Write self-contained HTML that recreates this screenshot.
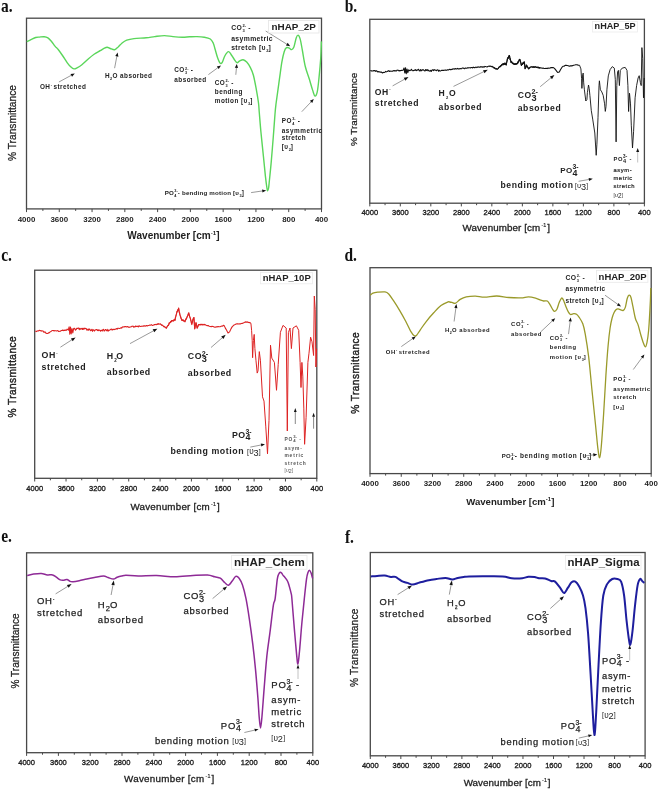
<!DOCTYPE html>
<html><head><meta charset="utf-8"><style>
html,body{margin:0;padding:0;background:#fff;overflow:hidden;width:658px;height:789px;}
svg{display:block;will-change:transform;}
.tl{font-family:"Liberation Sans", sans-serif;font-size:7.9px;font-weight:bold;fill:#222;text-anchor:middle;}
.xl{font-family:"Liberation Sans", sans-serif;font-size:9.6px;font-weight:bold;fill:#222;text-anchor:middle;}
.yl{font-family:"Liberation Sans", sans-serif;font-size:10px;fill:#222;text-anchor:middle;}
.pl{font-family:"Liberation Serif", serif;font-size:18px;font-weight:bold;fill:#111;}
text{font-family:"Liberation Sans", sans-serif;}
.pl{font-family:"Liberation Serif", serif !important;}
</style></head><body>
<svg width="658" height="789" viewBox="0 0 658 789">
<rect x="26.5" y="18.2" width="295.0" height="190.70000000000002" fill="none" stroke="#484848" stroke-width="1.3"/>
<line x1="26.50" y1="208.9" x2="26.50" y2="212.1" stroke="#484848" stroke-width="1"/>
<line x1="42.89" y1="208.9" x2="42.89" y2="210.9" stroke="#484848" stroke-width="1"/>
<line x1="59.28" y1="208.9" x2="59.28" y2="212.1" stroke="#484848" stroke-width="1"/>
<line x1="75.67" y1="208.9" x2="75.67" y2="210.9" stroke="#484848" stroke-width="1"/>
<line x1="92.06" y1="208.9" x2="92.06" y2="212.1" stroke="#484848" stroke-width="1"/>
<line x1="108.44" y1="208.9" x2="108.44" y2="210.9" stroke="#484848" stroke-width="1"/>
<line x1="124.83" y1="208.9" x2="124.83" y2="212.1" stroke="#484848" stroke-width="1"/>
<line x1="141.22" y1="208.9" x2="141.22" y2="210.9" stroke="#484848" stroke-width="1"/>
<line x1="157.61" y1="208.9" x2="157.61" y2="212.1" stroke="#484848" stroke-width="1"/>
<line x1="174.00" y1="208.9" x2="174.00" y2="210.9" stroke="#484848" stroke-width="1"/>
<line x1="190.39" y1="208.9" x2="190.39" y2="212.1" stroke="#484848" stroke-width="1"/>
<line x1="206.78" y1="208.9" x2="206.78" y2="210.9" stroke="#484848" stroke-width="1"/>
<line x1="223.17" y1="208.9" x2="223.17" y2="212.1" stroke="#484848" stroke-width="1"/>
<line x1="239.56" y1="208.9" x2="239.56" y2="210.9" stroke="#484848" stroke-width="1"/>
<line x1="255.94" y1="208.9" x2="255.94" y2="212.1" stroke="#484848" stroke-width="1"/>
<line x1="272.33" y1="208.9" x2="272.33" y2="210.9" stroke="#484848" stroke-width="1"/>
<line x1="288.72" y1="208.9" x2="288.72" y2="212.1" stroke="#484848" stroke-width="1"/>
<line x1="305.11" y1="208.9" x2="305.11" y2="210.9" stroke="#484848" stroke-width="1"/>
<line x1="321.50" y1="208.9" x2="321.50" y2="212.1" stroke="#484848" stroke-width="1"/>
<text x="26.50" y="221.80" class="tl">4000</text>
<text x="59.28" y="221.80" class="tl">3600</text>
<text x="92.06" y="221.80" class="tl">3200</text>
<text x="124.83" y="221.80" class="tl">2800</text>
<text x="157.61" y="221.80" class="tl">2400</text>
<text x="190.39" y="221.80" class="tl">2000</text>
<text x="223.17" y="221.80" class="tl">1600</text>
<text x="255.94" y="221.80" class="tl">1200</text>
<text x="288.72" y="221.80" class="tl">800</text>
<text x="321.50" y="221.80" class="tl">400</text>
<text x="173.5" y="238.5" class="xl" style="font-size:10.05px;font-weight:bold">Wavenumber [cm<tspan dy="-3.82" font-size="6.23">-1</tspan><tspan dy="3.82">]</tspan></text>
<text transform="translate(16.2,123) rotate(-90)" class="yl" style="font-size:10.2px;font-weight:normal;letter-spacing:0px;stroke:#222;stroke-width:0.25px;">% Transmittance</text>
<text transform="translate(0.9,11.6) scale(0.86,1)" class="pl">a.</text>
<rect x="369.8" y="19.3" width="274.59999999999997" height="183.89999999999998" fill="none" stroke="#484848" stroke-width="1.3"/>
<line x1="369.80" y1="203.2" x2="369.80" y2="206.39999999999998" stroke="#484848" stroke-width="1"/>
<line x1="385.06" y1="203.2" x2="385.06" y2="205.2" stroke="#484848" stroke-width="1"/>
<line x1="400.31" y1="203.2" x2="400.31" y2="206.39999999999998" stroke="#484848" stroke-width="1"/>
<line x1="415.57" y1="203.2" x2="415.57" y2="205.2" stroke="#484848" stroke-width="1"/>
<line x1="430.82" y1="203.2" x2="430.82" y2="206.39999999999998" stroke="#484848" stroke-width="1"/>
<line x1="446.08" y1="203.2" x2="446.08" y2="205.2" stroke="#484848" stroke-width="1"/>
<line x1="461.33" y1="203.2" x2="461.33" y2="206.39999999999998" stroke="#484848" stroke-width="1"/>
<line x1="476.59" y1="203.2" x2="476.59" y2="205.2" stroke="#484848" stroke-width="1"/>
<line x1="491.84" y1="203.2" x2="491.84" y2="206.39999999999998" stroke="#484848" stroke-width="1"/>
<line x1="507.10" y1="203.2" x2="507.10" y2="205.2" stroke="#484848" stroke-width="1"/>
<line x1="522.36" y1="203.2" x2="522.36" y2="206.39999999999998" stroke="#484848" stroke-width="1"/>
<line x1="537.61" y1="203.2" x2="537.61" y2="205.2" stroke="#484848" stroke-width="1"/>
<line x1="552.87" y1="203.2" x2="552.87" y2="206.39999999999998" stroke="#484848" stroke-width="1"/>
<line x1="568.12" y1="203.2" x2="568.12" y2="205.2" stroke="#484848" stroke-width="1"/>
<line x1="583.38" y1="203.2" x2="583.38" y2="206.39999999999998" stroke="#484848" stroke-width="1"/>
<line x1="598.63" y1="203.2" x2="598.63" y2="205.2" stroke="#484848" stroke-width="1"/>
<line x1="613.89" y1="203.2" x2="613.89" y2="206.39999999999998" stroke="#484848" stroke-width="1"/>
<line x1="629.14" y1="203.2" x2="629.14" y2="205.2" stroke="#484848" stroke-width="1"/>
<line x1="644.40" y1="203.2" x2="644.40" y2="206.39999999999998" stroke="#484848" stroke-width="1"/>
<text transform="translate(369.80,215.00) scale(0.93,1)" class="tl" style="font-weight:normal;font-size:8.1px;stroke:#222;stroke-width:0.35px">4000</text>
<text transform="translate(400.31,215.00) scale(0.93,1)" class="tl" style="font-weight:normal;font-size:8.1px;stroke:#222;stroke-width:0.35px">3600</text>
<text transform="translate(430.82,215.00) scale(0.93,1)" class="tl" style="font-weight:normal;font-size:8.1px;stroke:#222;stroke-width:0.35px">3200</text>
<text transform="translate(461.33,215.00) scale(0.93,1)" class="tl" style="font-weight:normal;font-size:8.1px;stroke:#222;stroke-width:0.35px">2800</text>
<text transform="translate(491.84,215.00) scale(0.93,1)" class="tl" style="font-weight:normal;font-size:8.1px;stroke:#222;stroke-width:0.35px">2400</text>
<text transform="translate(522.36,215.00) scale(0.93,1)" class="tl" style="font-weight:normal;font-size:8.1px;stroke:#222;stroke-width:0.35px">2000</text>
<text transform="translate(552.87,215.00) scale(0.93,1)" class="tl" style="font-weight:normal;font-size:8.1px;stroke:#222;stroke-width:0.35px">1600</text>
<text transform="translate(583.38,215.00) scale(0.93,1)" class="tl" style="font-weight:normal;font-size:8.1px;stroke:#222;stroke-width:0.35px">1200</text>
<text transform="translate(613.89,215.00) scale(0.93,1)" class="tl" style="font-weight:normal;font-size:8.1px;stroke:#222;stroke-width:0.35px">800</text>
<text transform="translate(644.40,215.00) scale(0.93,1)" class="tl" style="font-weight:normal;font-size:8.1px;stroke:#222;stroke-width:0.35px">400</text>
<text x="506.3" y="231" class="xl" style="font-size:9.8px;font-weight:normal;letter-spacing:0.1px;stroke:#222;stroke-width:0.3px;">Wavenumber [cm<tspan dx="1" dy="-4.41" font-size="5.39" style="stroke-width:0.15px">-1</tspan><tspan dx="0.8" dy="4.41">]</tspan></text>
<text transform="translate(356.8,109.4) rotate(-90)" class="yl" style="font-size:9.85px;font-weight:normal;letter-spacing:0px;stroke:#222;stroke-width:0.25px;">% Transmittance</text>
<text transform="translate(344.7,11.7) scale(0.86,1)" class="pl">b.</text>
<rect x="34.7" y="270.2" width="282.1" height="208.10000000000002" fill="none" stroke="#484848" stroke-width="1.3"/>
<line x1="34.70" y1="478.3" x2="34.70" y2="481.5" stroke="#484848" stroke-width="1"/>
<line x1="50.37" y1="478.3" x2="50.37" y2="480.3" stroke="#484848" stroke-width="1"/>
<line x1="66.04" y1="478.3" x2="66.04" y2="481.5" stroke="#484848" stroke-width="1"/>
<line x1="81.72" y1="478.3" x2="81.72" y2="480.3" stroke="#484848" stroke-width="1"/>
<line x1="97.39" y1="478.3" x2="97.39" y2="481.5" stroke="#484848" stroke-width="1"/>
<line x1="113.06" y1="478.3" x2="113.06" y2="480.3" stroke="#484848" stroke-width="1"/>
<line x1="128.73" y1="478.3" x2="128.73" y2="481.5" stroke="#484848" stroke-width="1"/>
<line x1="144.41" y1="478.3" x2="144.41" y2="480.3" stroke="#484848" stroke-width="1"/>
<line x1="160.08" y1="478.3" x2="160.08" y2="481.5" stroke="#484848" stroke-width="1"/>
<line x1="175.75" y1="478.3" x2="175.75" y2="480.3" stroke="#484848" stroke-width="1"/>
<line x1="191.42" y1="478.3" x2="191.42" y2="481.5" stroke="#484848" stroke-width="1"/>
<line x1="207.09" y1="478.3" x2="207.09" y2="480.3" stroke="#484848" stroke-width="1"/>
<line x1="222.77" y1="478.3" x2="222.77" y2="481.5" stroke="#484848" stroke-width="1"/>
<line x1="238.44" y1="478.3" x2="238.44" y2="480.3" stroke="#484848" stroke-width="1"/>
<line x1="254.11" y1="478.3" x2="254.11" y2="481.5" stroke="#484848" stroke-width="1"/>
<line x1="269.78" y1="478.3" x2="269.78" y2="480.3" stroke="#484848" stroke-width="1"/>
<line x1="285.46" y1="478.3" x2="285.46" y2="481.5" stroke="#484848" stroke-width="1"/>
<line x1="301.13" y1="478.3" x2="301.13" y2="480.3" stroke="#484848" stroke-width="1"/>
<line x1="316.80" y1="478.3" x2="316.80" y2="481.5" stroke="#484848" stroke-width="1"/>
<text transform="translate(34.70,491.40) scale(0.93,1)" class="tl" style="font-weight:normal;font-size:8.1px;stroke:#222;stroke-width:0.35px">4000</text>
<text transform="translate(66.04,491.40) scale(0.93,1)" class="tl" style="font-weight:normal;font-size:8.1px;stroke:#222;stroke-width:0.35px">3600</text>
<text transform="translate(97.39,491.40) scale(0.93,1)" class="tl" style="font-weight:normal;font-size:8.1px;stroke:#222;stroke-width:0.35px">3200</text>
<text transform="translate(128.73,491.40) scale(0.93,1)" class="tl" style="font-weight:normal;font-size:8.1px;stroke:#222;stroke-width:0.35px">2800</text>
<text transform="translate(160.08,491.40) scale(0.93,1)" class="tl" style="font-weight:normal;font-size:8.1px;stroke:#222;stroke-width:0.35px">2400</text>
<text transform="translate(191.42,491.40) scale(0.93,1)" class="tl" style="font-weight:normal;font-size:8.1px;stroke:#222;stroke-width:0.35px">2000</text>
<text transform="translate(222.77,491.40) scale(0.93,1)" class="tl" style="font-weight:normal;font-size:8.1px;stroke:#222;stroke-width:0.35px">1600</text>
<text transform="translate(254.11,491.40) scale(0.93,1)" class="tl" style="font-weight:normal;font-size:8.1px;stroke:#222;stroke-width:0.35px">1200</text>
<text transform="translate(285.46,491.40) scale(0.93,1)" class="tl" style="font-weight:normal;font-size:8.1px;stroke:#222;stroke-width:0.35px">800</text>
<text transform="translate(316.80,491.40) scale(0.93,1)" class="tl" style="font-weight:normal;font-size:8.1px;stroke:#222;stroke-width:0.35px">400</text>
<text x="175.2" y="510.1" class="xl" style="font-size:9.8px;font-weight:normal;letter-spacing:0.23px;stroke:#222;stroke-width:0.3px;">Wavenumber [cm<tspan dx="1" dy="-4.41" font-size="5.39" style="stroke-width:0.15px">-1</tspan><tspan dx="0.8" dy="4.41">]</tspan></text>
<text transform="translate(15.8,376.8) rotate(-90)" class="yl" style="font-size:10.2px;font-weight:normal;letter-spacing:0.37px;stroke:#222;stroke-width:0.4px;">% Transmittance</text>
<text transform="translate(1.2,261.4) scale(0.86,1)" class="pl">c.</text>
<rect x="370" y="267.7" width="281.20000000000005" height="205.90000000000003" fill="none" stroke="#484848" stroke-width="1.3"/>
<line x1="370.00" y1="473.6" x2="370.00" y2="476.8" stroke="#484848" stroke-width="1"/>
<line x1="385.62" y1="473.6" x2="385.62" y2="475.6" stroke="#484848" stroke-width="1"/>
<line x1="401.24" y1="473.6" x2="401.24" y2="476.8" stroke="#484848" stroke-width="1"/>
<line x1="416.87" y1="473.6" x2="416.87" y2="475.6" stroke="#484848" stroke-width="1"/>
<line x1="432.49" y1="473.6" x2="432.49" y2="476.8" stroke="#484848" stroke-width="1"/>
<line x1="448.11" y1="473.6" x2="448.11" y2="475.6" stroke="#484848" stroke-width="1"/>
<line x1="463.73" y1="473.6" x2="463.73" y2="476.8" stroke="#484848" stroke-width="1"/>
<line x1="479.36" y1="473.6" x2="479.36" y2="475.6" stroke="#484848" stroke-width="1"/>
<line x1="494.98" y1="473.6" x2="494.98" y2="476.8" stroke="#484848" stroke-width="1"/>
<line x1="510.60" y1="473.6" x2="510.60" y2="475.6" stroke="#484848" stroke-width="1"/>
<line x1="526.22" y1="473.6" x2="526.22" y2="476.8" stroke="#484848" stroke-width="1"/>
<line x1="541.84" y1="473.6" x2="541.84" y2="475.6" stroke="#484848" stroke-width="1"/>
<line x1="557.47" y1="473.6" x2="557.47" y2="476.8" stroke="#484848" stroke-width="1"/>
<line x1="573.09" y1="473.6" x2="573.09" y2="475.6" stroke="#484848" stroke-width="1"/>
<line x1="588.71" y1="473.6" x2="588.71" y2="476.8" stroke="#484848" stroke-width="1"/>
<line x1="604.33" y1="473.6" x2="604.33" y2="475.6" stroke="#484848" stroke-width="1"/>
<line x1="619.96" y1="473.6" x2="619.96" y2="476.8" stroke="#484848" stroke-width="1"/>
<line x1="635.58" y1="473.6" x2="635.58" y2="475.6" stroke="#484848" stroke-width="1"/>
<line x1="651.20" y1="473.6" x2="651.20" y2="476.8" stroke="#484848" stroke-width="1"/>
<text x="370.00" y="486.40" class="tl">4000</text>
<text x="401.24" y="486.40" class="tl">3600</text>
<text x="432.49" y="486.40" class="tl">3200</text>
<text x="463.73" y="486.40" class="tl">2800</text>
<text x="494.98" y="486.40" class="tl">2400</text>
<text x="526.22" y="486.40" class="tl">2000</text>
<text x="557.47" y="486.40" class="tl">1600</text>
<text x="588.71" y="486.40" class="tl">1200</text>
<text x="619.96" y="486.40" class="tl">800</text>
<text x="651.20" y="486.40" class="tl">400</text>
<text x="510.3" y="504.5" class="xl" style="font-size:9.6px;font-weight:bold">Wavenumber [cm<tspan dy="-3.65" font-size="5.95">-1</tspan><tspan dy="3.65">]</tspan></text>
<text transform="translate(359,372.8) rotate(-90)" class="yl" style="font-size:10.2px;font-weight:normal;letter-spacing:0.4px;stroke:#222;stroke-width:0.4px;">% Transmittance</text>
<text transform="translate(344.4,261.4) scale(0.86,1)" class="pl">d.</text>
<rect x="26.6" y="552.8" width="286.2" height="199.9000000000001" fill="none" stroke="#484848" stroke-width="1.3"/>
<line x1="26.60" y1="752.7" x2="26.60" y2="755.9000000000001" stroke="#484848" stroke-width="1"/>
<line x1="42.50" y1="752.7" x2="42.50" y2="754.7" stroke="#484848" stroke-width="1"/>
<line x1="58.40" y1="752.7" x2="58.40" y2="755.9000000000001" stroke="#484848" stroke-width="1"/>
<line x1="74.30" y1="752.7" x2="74.30" y2="754.7" stroke="#484848" stroke-width="1"/>
<line x1="90.20" y1="752.7" x2="90.20" y2="755.9000000000001" stroke="#484848" stroke-width="1"/>
<line x1="106.10" y1="752.7" x2="106.10" y2="754.7" stroke="#484848" stroke-width="1"/>
<line x1="122.00" y1="752.7" x2="122.00" y2="755.9000000000001" stroke="#484848" stroke-width="1"/>
<line x1="137.90" y1="752.7" x2="137.90" y2="754.7" stroke="#484848" stroke-width="1"/>
<line x1="153.80" y1="752.7" x2="153.80" y2="755.9000000000001" stroke="#484848" stroke-width="1"/>
<line x1="169.70" y1="752.7" x2="169.70" y2="754.7" stroke="#484848" stroke-width="1"/>
<line x1="185.60" y1="752.7" x2="185.60" y2="755.9000000000001" stroke="#484848" stroke-width="1"/>
<line x1="201.50" y1="752.7" x2="201.50" y2="754.7" stroke="#484848" stroke-width="1"/>
<line x1="217.40" y1="752.7" x2="217.40" y2="755.9000000000001" stroke="#484848" stroke-width="1"/>
<line x1="233.30" y1="752.7" x2="233.30" y2="754.7" stroke="#484848" stroke-width="1"/>
<line x1="249.20" y1="752.7" x2="249.20" y2="755.9000000000001" stroke="#484848" stroke-width="1"/>
<line x1="265.10" y1="752.7" x2="265.10" y2="754.7" stroke="#484848" stroke-width="1"/>
<line x1="281.00" y1="752.7" x2="281.00" y2="755.9000000000001" stroke="#484848" stroke-width="1"/>
<line x1="296.90" y1="752.7" x2="296.90" y2="754.7" stroke="#484848" stroke-width="1"/>
<line x1="312.80" y1="752.7" x2="312.80" y2="755.9000000000001" stroke="#484848" stroke-width="1"/>
<text transform="translate(26.60,764.90) scale(0.93,1)" class="tl" style="font-weight:normal;font-size:8.1px;stroke:#222;stroke-width:0.35px">4000</text>
<text transform="translate(58.40,764.90) scale(0.93,1)" class="tl" style="font-weight:normal;font-size:8.1px;stroke:#222;stroke-width:0.35px">3600</text>
<text transform="translate(90.20,764.90) scale(0.93,1)" class="tl" style="font-weight:normal;font-size:8.1px;stroke:#222;stroke-width:0.35px">3200</text>
<text transform="translate(122.00,764.90) scale(0.93,1)" class="tl" style="font-weight:normal;font-size:8.1px;stroke:#222;stroke-width:0.35px">2800</text>
<text transform="translate(153.80,764.90) scale(0.93,1)" class="tl" style="font-weight:normal;font-size:8.1px;stroke:#222;stroke-width:0.35px">2400</text>
<text transform="translate(185.60,764.90) scale(0.93,1)" class="tl" style="font-weight:normal;font-size:8.1px;stroke:#222;stroke-width:0.35px">2000</text>
<text transform="translate(217.40,764.90) scale(0.93,1)" class="tl" style="font-weight:normal;font-size:8.1px;stroke:#222;stroke-width:0.35px">1600</text>
<text transform="translate(249.20,764.90) scale(0.93,1)" class="tl" style="font-weight:normal;font-size:8.1px;stroke:#222;stroke-width:0.35px">1200</text>
<text transform="translate(281.00,764.90) scale(0.93,1)" class="tl" style="font-weight:normal;font-size:8.1px;stroke:#222;stroke-width:0.35px">800</text>
<text transform="translate(312.80,764.90) scale(0.93,1)" class="tl" style="font-weight:normal;font-size:8.1px;stroke:#222;stroke-width:0.35px">400</text>
<text x="169.3" y="782.4" class="xl" style="font-size:9.8px;font-weight:normal;letter-spacing:0.28px;stroke:#222;stroke-width:0.3px;">Wavenumber [cm<tspan dx="1" dy="-4.41" font-size="5.39" style="stroke-width:0.15px">-1</tspan><tspan dx="0.8" dy="4.41">]</tspan></text>
<text transform="translate(19,651) rotate(-90)" class="yl" style="font-size:10.1px;font-weight:normal;letter-spacing:0px;stroke:#222;stroke-width:0.25px;">% Transmittance</text>
<text transform="translate(1.2,542.2) scale(0.86,1)" class="pl">e.</text>
<rect x="370.3" y="552.5" width="274.8" height="203.29999999999995" fill="none" stroke="#484848" stroke-width="1.3"/>
<line x1="370.30" y1="755.8" x2="370.30" y2="759.0" stroke="#484848" stroke-width="1"/>
<line x1="385.57" y1="755.8" x2="385.57" y2="757.8" stroke="#484848" stroke-width="1"/>
<line x1="400.83" y1="755.8" x2="400.83" y2="759.0" stroke="#484848" stroke-width="1"/>
<line x1="416.10" y1="755.8" x2="416.10" y2="757.8" stroke="#484848" stroke-width="1"/>
<line x1="431.37" y1="755.8" x2="431.37" y2="759.0" stroke="#484848" stroke-width="1"/>
<line x1="446.63" y1="755.8" x2="446.63" y2="757.8" stroke="#484848" stroke-width="1"/>
<line x1="461.90" y1="755.8" x2="461.90" y2="759.0" stroke="#484848" stroke-width="1"/>
<line x1="477.17" y1="755.8" x2="477.17" y2="757.8" stroke="#484848" stroke-width="1"/>
<line x1="492.43" y1="755.8" x2="492.43" y2="759.0" stroke="#484848" stroke-width="1"/>
<line x1="507.70" y1="755.8" x2="507.70" y2="757.8" stroke="#484848" stroke-width="1"/>
<line x1="522.97" y1="755.8" x2="522.97" y2="759.0" stroke="#484848" stroke-width="1"/>
<line x1="538.23" y1="755.8" x2="538.23" y2="757.8" stroke="#484848" stroke-width="1"/>
<line x1="553.50" y1="755.8" x2="553.50" y2="759.0" stroke="#484848" stroke-width="1"/>
<line x1="568.77" y1="755.8" x2="568.77" y2="757.8" stroke="#484848" stroke-width="1"/>
<line x1="584.03" y1="755.8" x2="584.03" y2="759.0" stroke="#484848" stroke-width="1"/>
<line x1="599.30" y1="755.8" x2="599.30" y2="757.8" stroke="#484848" stroke-width="1"/>
<line x1="614.57" y1="755.8" x2="614.57" y2="759.0" stroke="#484848" stroke-width="1"/>
<line x1="629.83" y1="755.8" x2="629.83" y2="757.8" stroke="#484848" stroke-width="1"/>
<line x1="645.10" y1="755.8" x2="645.10" y2="759.0" stroke="#484848" stroke-width="1"/>
<text transform="translate(370.30,768.20) scale(0.93,1)" class="tl" style="font-weight:normal;font-size:8.1px;stroke:#222;stroke-width:0.35px">4000</text>
<text transform="translate(400.83,768.20) scale(0.93,1)" class="tl" style="font-weight:normal;font-size:8.1px;stroke:#222;stroke-width:0.35px">3600</text>
<text transform="translate(431.37,768.20) scale(0.93,1)" class="tl" style="font-weight:normal;font-size:8.1px;stroke:#222;stroke-width:0.35px">3200</text>
<text transform="translate(461.90,768.20) scale(0.93,1)" class="tl" style="font-weight:normal;font-size:8.1px;stroke:#222;stroke-width:0.35px">2800</text>
<text transform="translate(492.43,768.20) scale(0.93,1)" class="tl" style="font-weight:normal;font-size:8.1px;stroke:#222;stroke-width:0.35px">2400</text>
<text transform="translate(522.97,768.20) scale(0.93,1)" class="tl" style="font-weight:normal;font-size:8.1px;stroke:#222;stroke-width:0.35px">2000</text>
<text transform="translate(553.50,768.20) scale(0.93,1)" class="tl" style="font-weight:normal;font-size:8.1px;stroke:#222;stroke-width:0.35px">1600</text>
<text transform="translate(584.03,768.20) scale(0.93,1)" class="tl" style="font-weight:normal;font-size:8.1px;stroke:#222;stroke-width:0.35px">1200</text>
<text transform="translate(614.57,768.20) scale(0.93,1)" class="tl" style="font-weight:normal;font-size:8.1px;stroke:#222;stroke-width:0.35px">800</text>
<text transform="translate(645.10,768.20) scale(0.93,1)" class="tl" style="font-weight:normal;font-size:8.1px;stroke:#222;stroke-width:0.35px">400</text>
<text x="507.1" y="786" class="xl" style="font-size:9.8px;font-weight:normal;letter-spacing:0.07px;stroke:#222;stroke-width:0.3px;">Wavenumber [cm<tspan dx="1" dy="-4.41" font-size="5.39" style="stroke-width:0.15px">-1</tspan><tspan dx="0.8" dy="4.41">]</tspan></text>
<text transform="translate(358,647.7) rotate(-90)" class="yl" style="font-size:10.2px;font-weight:normal;letter-spacing:0.18px;stroke:#222;stroke-width:0.25px;">% Transmittance</text>
<text transform="translate(344.9,543) scale(0.86,1)" class="pl">f.</text>
<path d="M26.80,41.60 C27.48,41.28 29.42,40.38 30.90,39.70 C32.38,39.02 34.28,37.93 35.70,37.50 C37.12,37.07 37.98,37.23 39.40,37.10 C40.82,36.97 42.78,36.57 44.20,36.70 C45.62,36.83 46.68,37.10 47.90,37.90 C49.12,38.70 50.28,40.08 51.50,41.50 C52.72,42.92 54.08,45.07 55.20,46.40 C56.32,47.73 56.98,47.98 58.20,49.50 C59.42,51.02 60.98,53.28 62.50,55.50 C64.02,57.72 65.88,60.87 67.30,62.80 C68.72,64.73 69.88,66.08 71.00,67.10 C72.12,68.12 73.00,68.77 74.00,68.90 C75.00,69.03 75.68,68.60 77.00,67.90 C78.32,67.20 80.07,66.15 81.90,64.70 C83.73,63.25 85.97,60.93 88.00,59.20 C90.03,57.47 92.07,55.72 94.10,54.30 C96.13,52.88 98.62,51.63 100.20,50.70 C101.78,49.77 102.45,49.28 103.60,48.70 C104.75,48.12 105.98,47.23 107.10,47.20 C108.22,47.17 109.05,48.08 110.30,48.50 C111.55,48.92 113.28,49.97 114.60,49.70 C115.92,49.43 116.98,47.98 118.20,46.90 C119.42,45.82 120.48,44.32 121.90,43.20 C123.32,42.08 124.68,40.97 126.70,40.20 C128.72,39.43 130.75,39.00 134.00,38.60 C137.25,38.20 142.75,38.13 146.20,37.80 C149.65,37.47 151.67,36.97 154.70,36.60 C157.73,36.23 161.35,35.60 164.40,35.60 C167.45,35.60 170.02,36.33 173.00,36.60 C175.98,36.87 179.53,37.17 182.30,37.20 C185.07,37.23 187.17,36.90 189.60,36.80 C192.03,36.70 194.47,36.53 196.90,36.60 C199.33,36.67 201.97,36.80 204.20,37.20 C206.43,37.60 208.78,38.00 210.30,39.00 C211.82,40.00 212.50,41.48 213.30,43.20 C214.10,44.92 214.38,46.87 215.10,49.30 C215.82,51.73 216.75,55.47 217.60,57.80 C218.45,60.13 219.40,62.58 220.20,63.30 C221.00,64.02 221.63,63.32 222.40,62.10 C223.17,60.88 223.82,57.73 224.80,56.00 C225.78,54.27 227.28,52.00 228.30,51.70 C229.32,51.40 229.95,52.98 230.90,54.20 C231.85,55.42 232.98,57.58 234.00,59.00 C235.02,60.42 236.10,62.33 237.00,62.70 C237.90,63.07 238.38,61.70 239.40,61.20 C240.42,60.70 241.88,59.55 243.10,59.70 C244.32,59.85 245.48,60.78 246.70,62.10 C247.92,63.42 249.28,65.42 250.40,67.60 C251.52,69.78 252.42,71.58 253.40,75.20 C254.38,78.82 255.45,84.67 256.30,89.30 C257.15,93.93 258.00,99.10 258.50,103.00 C259.00,106.90 258.90,107.92 259.30,112.70 C259.70,117.48 260.20,124.30 260.90,131.70 C261.60,139.10 262.75,149.70 263.50,157.10 C264.25,164.50 264.82,170.87 265.40,176.10 C265.98,181.33 266.62,186.07 267.00,188.50 C267.38,190.93 267.43,190.78 267.70,190.70 C267.97,190.62 268.32,189.70 268.60,188.00 C268.88,186.30 268.98,184.60 269.40,180.50 C269.82,176.40 270.47,170.48 271.10,163.40 C271.73,156.32 272.55,146.23 273.20,138.00 C273.85,129.77 274.53,119.67 275.00,114.00 C275.47,108.33 275.60,107.37 276.00,104.00 C276.40,100.63 276.80,98.15 277.40,93.80 C278.00,89.45 278.85,83.22 279.60,77.90 C280.35,72.58 281.13,66.27 281.90,61.90 C282.67,57.53 283.43,54.07 284.20,51.70 C284.97,49.33 285.65,48.28 286.50,47.70 C287.35,47.12 288.45,47.88 289.30,48.20 C290.15,48.52 290.83,49.78 291.60,49.60 C292.37,49.42 293.13,49.03 293.90,47.10 C294.67,45.17 295.50,40.00 296.20,38.00 C296.90,36.00 297.43,34.92 298.10,35.10 C298.77,35.28 299.48,36.53 300.20,39.10 C300.92,41.67 301.55,45.93 302.40,50.50 C303.25,55.07 304.15,61.75 305.30,66.50 C306.45,71.25 308.07,75.02 309.30,79.00 C310.53,82.98 311.75,87.55 312.70,90.40 C313.65,93.25 314.23,95.90 315.00,96.10 C315.77,96.30 316.63,94.63 317.30,91.60 C317.97,88.57 318.43,83.42 319.00,77.90 C319.57,72.38 320.30,64.58 320.70,58.50 C321.10,52.42 321.28,44.25 321.40,41.40" fill="none" stroke="#5ad65a" stroke-width="1.4" stroke-linejoin="round"/>
<text x="39.90" y="88.90" font-size="6.4" font-weight="bold" letter-spacing="0.45" fill="#222" text-anchor="start" >OH</text>
<text x="50.70" y="86.10" font-size="3.84" font-weight="bold" letter-spacing="0" fill="#222" text-anchor="start" >-</text>
<text x="53.48" y="88.90" font-size="6.4" font-weight="bold" letter-spacing="0.45" fill="#222" text-anchor="start" >stretched</text>
<line x1="58.90" y1="82.00" x2="71.28" y2="75.30" stroke="#555" stroke-width="0.6"/><polygon points="74.80,73.40 72.04,76.71 70.52,73.90" fill="#111"/>
<text x="104.90" y="77.90" font-size="6.4" font-weight="bold" letter-spacing="0.45" fill="#222" text-anchor="start" >H</text>
<text x="110.07" y="79.70" font-size="3.84" font-weight="bold" letter-spacing="0" fill="#222" text-anchor="start" >2</text>
<text x="112.41" y="77.90" font-size="6.4" font-weight="bold" letter-spacing="0.45" fill="#222" text-anchor="start" >O absorbed</text>
<line x1="114.60" y1="68.20" x2="116.85" y2="56.33" stroke="#555" stroke-width="0.6"/><polygon points="117.60,52.40 118.43,56.63 115.28,56.03" fill="#111"/>
<text x="174.30" y="72.20" font-size="6.4" font-weight="bold" letter-spacing="0.45" fill="#222" text-anchor="start" >CO</text>
<text x="185.10" y="69.51" font-size="3.8" font-weight="bold" letter-spacing="0" fill="#222" text-anchor="start" >2-</text>
<text x="185.10" y="74.25" font-size="3.8" font-weight="bold" letter-spacing="0" fill="#222" text-anchor="start" >3</text>
<text x="188.48" y="72.20" font-size="6.4" font-weight="bold" letter-spacing="0.45" fill="#222" text-anchor="start" > -</text>
<text x="174.30" y="81.60" font-size="6.4" font-weight="bold" letter-spacing="0.45" fill="#222" text-anchor="start" >absorbed</text>
<line x1="208.40" y1="74.60" x2="217.77" y2="67.76" stroke="#555" stroke-width="0.6"/><polygon points="221.00,65.40 218.71,69.05 216.83,66.47" fill="#111"/>
<text x="214.80" y="84.60" font-size="6.4" font-weight="bold" letter-spacing="0.45" fill="#222" text-anchor="start" >CO</text>
<text x="225.60" y="81.91" font-size="3.8" font-weight="bold" letter-spacing="0" fill="#222" text-anchor="start" >2-</text>
<text x="225.60" y="86.65" font-size="3.8" font-weight="bold" letter-spacing="0" fill="#222" text-anchor="start" >3</text>
<text x="228.98" y="84.60" font-size="6.4" font-weight="bold" letter-spacing="0.45" fill="#222" text-anchor="start" > -</text>
<text x="214.80" y="93.70" font-size="6.4" font-weight="bold" letter-spacing="0.45" fill="#222" text-anchor="start" >bending</text>
<text x="214.80" y="103.30" font-size="6.4" font-weight="bold" letter-spacing="0.45" fill="#222" text-anchor="start" >motion [υ</text>
<text x="248.11" y="105.35" font-size="3.8" font-weight="bold" letter-spacing="0" fill="#222" text-anchor="start" >3</text>
<text x="250.23" y="103.30" font-size="6.4" font-weight="bold" letter-spacing="0.45" fill="#222" text-anchor="start" >]</text>
<line x1="235.80" y1="74.80" x2="236.43" y2="67.88" stroke="#555" stroke-width="0.6"/><polygon points="236.80,63.90 238.03,68.03 234.84,67.74" fill="#111"/>
<text x="231.20" y="29.90" font-size="6.8" font-weight="bold" letter-spacing="0.4" fill="#222" text-anchor="start" >CO</text>
<text x="242.50" y="27.04" font-size="4.0" font-weight="bold" letter-spacing="0" fill="#222" text-anchor="start" >2-</text>
<text x="242.50" y="32.08" font-size="4.0" font-weight="bold" letter-spacing="0" fill="#222" text-anchor="start" >3</text>
<text x="246.06" y="29.90" font-size="6.8" font-weight="bold" letter-spacing="0.4" fill="#222" text-anchor="start" > -</text>
<text x="231.20" y="40.50" font-size="6.8" font-weight="bold" letter-spacing="0.4" fill="#222" text-anchor="start" >asymmetric</text>
<text x="231.20" y="50.10" font-size="6.8" font-weight="bold" letter-spacing="0.4" fill="#222" text-anchor="start" >stretch [υ</text>
<text x="266.29" y="52.28" font-size="4.0" font-weight="bold" letter-spacing="0" fill="#222" text-anchor="start" >2</text>
<text x="268.51" y="50.10" font-size="6.8" font-weight="bold" letter-spacing="0.4" fill="#222" text-anchor="start" >]</text>
<line x1="265.70" y1="31.00" x2="286.81" y2="44.18" stroke="#555" stroke-width="0.6"/><polygon points="290.20,46.30 285.96,45.54 287.65,42.82" fill="#111"/>
<text x="281.70" y="122.60" font-size="6.4" font-weight="bold" letter-spacing="0.45" fill="#222" text-anchor="start" >PO</text>
<text x="292.15" y="119.91" font-size="3.8" font-weight="bold" letter-spacing="0" fill="#222" text-anchor="start" >3-</text>
<text x="292.15" y="124.65" font-size="3.8" font-weight="bold" letter-spacing="0" fill="#222" text-anchor="start" >4</text>
<text x="295.53" y="122.60" font-size="6.4" font-weight="bold" letter-spacing="0.45" fill="#222" text-anchor="start" > -</text>
<text x="281.70" y="132.60" font-size="6.4" font-weight="bold" letter-spacing="0.55" fill="#222" text-anchor="start" >asymmetric</text>
<text x="281.70" y="140.10" font-size="6.4" font-weight="bold" letter-spacing="0.45" fill="#222" text-anchor="start" >stretch</text>
<text x="281.70" y="148.50" font-size="6.4" font-weight="bold" letter-spacing="0.45" fill="#222" text-anchor="start" >[υ</text>
<text x="288.76" y="150.55" font-size="3.8" font-weight="bold" letter-spacing="0" fill="#222" text-anchor="start" >2</text>
<text x="290.87" y="148.50" font-size="6.4" font-weight="bold" letter-spacing="0.45" fill="#222" text-anchor="start" >]</text>
<line x1="301.80" y1="111.70" x2="311.05" y2="101.91" stroke="#555" stroke-width="0.6"/><polygon points="313.80,99.00 312.22,103.01 309.89,100.81" fill="#111"/>
<text x="164.70" y="194.70" font-size="6.2" font-weight="bold" letter-spacing="0.2" fill="#222" text-anchor="start" >PO</text>
<text x="174.36" y="192.10" font-size="3.8" font-weight="bold" letter-spacing="0" fill="#222" text-anchor="start" >3-</text>
<text x="174.36" y="196.68" font-size="3.8" font-weight="bold" letter-spacing="0" fill="#222" text-anchor="start" >4</text>
<text x="177.74" y="194.70" font-size="6.2" font-weight="bold" letter-spacing="0.2" fill="#222" text-anchor="start" >- bending motion [υ</text>
<text x="239.21" y="194.70" font-size="6.4" font-weight="bold" letter-spacing="0.45" fill="#222" text-anchor="start" ></text>
<text x="239.51" y="196.75" font-size="3.8" font-weight="bold" letter-spacing="0" fill="#222" text-anchor="start" >3</text>
<text x="241.63" y="194.70" font-size="6.4" font-weight="bold" letter-spacing="0.45" fill="#222" text-anchor="start" >]</text>
<line x1="251.10" y1="192.60" x2="262.24" y2="190.98" stroke="#555" stroke-width="0.6"/><polygon points="266.20,190.40 262.47,192.56 262.01,189.39" fill="#111"/>
<rect x="268.5" y="20.5" width="50.5" height="12.5" fill="#fff" stroke="#e4e4e4" stroke-width="0.8"/>
<text x="271.50" y="29.60" font-size="9.9" font-weight="bold" letter-spacing="0" fill="#222" text-anchor="start" >nHAP_2P</text><path d="M370.30,70.54 L371.01,70.87 L371.73,70.72 L372.44,70.98 L373.15,71.03 L373.86,70.49 L374.57,70.46 L375.29,71.31 L376.00,70.76 L376.73,70.91 L377.47,71.85 L378.20,71.50 L378.93,72.05 L379.67,71.87 L380.40,72.21 L381.13,71.90 L381.87,72.56 L382.60,72.97 L383.37,72.42 L384.14,72.44 L384.91,72.17 L385.69,71.36 L386.46,71.86 L387.23,71.49 L388.00,71.00 L388.70,70.67 L389.40,71.45 L390.10,70.99 L390.80,71.18 L391.50,71.28 L392.20,71.05 L392.90,71.20 L393.60,70.61 L394.30,70.96 L395.00,70.54 L395.70,71.03 L396.40,70.96 L397.10,70.17 L397.80,70.20 L398.50,70.27 L399.20,71.01 L399.90,70.47 L400.60,70.65 L401.30,70.31 L402.00,70.51 L403.20,70.09 L404.00,68.05 L404.80,72.89 L405.50,67.68 L406.20,73.80 L407.00,68.98 L407.80,72.63 L408.70,69.84 L410.00,70.68 L410.71,70.14 L411.43,69.25 L412.14,70.53 L412.86,70.75 L413.57,70.67 L414.29,70.10 L415.00,70.38 L415.71,69.51 L416.43,70.65 L417.14,70.22 L417.86,69.73 L418.57,69.36 L419.29,70.81 L420.00,71.08 L420.71,69.47 L421.43,70.77 L422.14,70.08 L422.86,69.63 L423.57,69.90 L424.29,70.77 L425.00,70.97 L425.71,69.49 L426.43,70.53 L427.14,69.52 L427.86,70.75 L428.57,70.07 L429.29,71.07 L430.00,71.27 L430.71,70.42 L431.43,71.33 L432.14,70.10 L432.86,69.70 L433.57,70.65 L434.29,69.64 L435.00,69.96 L435.71,70.35 L436.43,70.73 L437.14,69.92 L437.86,69.73 L438.57,71.23 L439.29,70.25 L440.00,71.06 L440.72,70.92 L441.45,70.33 L442.17,70.33 L442.90,70.32 L443.62,70.36 L444.34,70.24 L445.07,70.13 L445.79,70.11 L446.51,70.35 L447.24,69.85 L447.96,69.69 L448.69,69.91 L449.41,69.35 L450.13,69.33 L450.86,69.93 L451.58,69.40 L452.30,69.35 L453.03,68.74 L453.75,69.07 L454.48,69.16 L455.20,68.52 L455.92,69.06 L456.65,69.02 L457.37,68.39 L458.10,68.90 L458.82,68.68 L459.54,68.84 L460.27,68.45 L460.99,68.75 L461.71,68.72 L462.44,67.95 L463.16,67.93 L463.89,68.49 L464.61,68.72 L465.33,67.95 L466.06,68.10 L466.78,68.18 L467.50,67.85 L468.23,67.84 L468.95,67.73 L469.68,67.73 L470.40,67.90 L471.12,67.55 L471.85,67.57 L472.57,67.92 L473.30,67.12 L474.02,67.61 L474.74,67.72 L475.47,67.24 L476.19,67.10 L476.91,67.63 L477.64,67.01 L478.36,66.91 L479.09,67.11 L479.81,67.32 L480.53,66.67 L481.26,66.84 L481.98,66.80 L482.70,67.24 L483.43,66.80 L484.15,67.16 L484.88,66.42 L485.60,66.54 L486.32,66.81 L487.04,67.00 L487.77,66.52 L488.49,66.25 L489.21,66.10 L489.93,66.46 L490.66,66.08 L491.38,66.65 L492.10,66.30 L492.51,66.84 L492.93,67.20 L493.34,67.64 L493.76,67.74 L494.17,68.22 L494.59,67.63 L495.00,68.37 L495.42,68.98 L495.83,68.82 L496.25,69.20 L496.67,68.55 L497.08,69.04 L497.50,68.95 L497.93,68.74 L498.35,68.27 L498.77,67.21 L499.20,66.92 L499.62,66.63 L500.03,66.92 L500.45,66.42 L500.87,65.46 L501.28,65.75 L501.70,64.74 L502.12,65.00 L502.53,64.29 L502.95,63.95 L503.37,64.60 L503.78,63.73 L504.20,63.52 L504.62,64.36 L505.04,64.33 L505.46,63.83 L505.88,64.58 L506.30,64.24 L506.73,62.44 L507.17,60.04 L507.60,58.84 L508.05,57.97 L508.50,57.62 L508.95,56.92 L509.40,55.70 L509.90,57.69 L510.40,59.43 L510.90,61.35 L511.32,61.69 L511.75,62.35 L512.17,63.08 L512.60,62.90 L513.02,63.71 L513.43,63.50 L513.85,63.61 L514.27,64.25 L514.68,64.05 L515.10,64.02 L515.52,64.10 L515.94,64.24 L516.36,63.52 L516.78,64.36 L517.20,63.32 L517.62,63.28 L518.03,62.61 L518.45,61.02 L518.87,61.02 L519.28,59.83 L519.70,59.28 L520.12,60.18 L520.55,61.70 L520.98,63.31 L521.40,65.56 L521.80,64.36 L522.20,64.49 L522.60,64.23 L523.02,63.72 L523.45,62.59 L523.88,62.08 L524.30,61.72 L524.70,65.73 L525.10,68.81 L525.53,68.08 L525.97,66.76 L526.40,65.46 L526.82,65.38 L527.24,67.03 L527.66,66.91 L528.08,67.90 L528.50,68.91 L528.90,68.82 L529.30,67.84 L529.70,68.02 L530.10,67.25 L530.52,66.99 L530.95,66.97 L531.38,66.80 L531.80,66.68 L532.23,66.72 L532.65,67.24 L533.08,67.52 L533.50,66.66 L533.93,66.52 L534.35,67.44 L534.78,66.96 L535.20,66.81 L535.62,66.73 L536.03,67.18 L536.45,67.50 L536.87,67.22 L537.28,67.28 L537.70,67.01 L538.12,67.96 L538.53,67.17 L538.95,67.72 L539.37,68.16 L539.78,67.54 L540.20,68.00 L541.17,67.87 L542.13,68.34 L543.10,68.05 L544.07,68.49 L545.03,68.49 L546.00,68.39 L547.05,68.58 L548.10,68.13 L549.15,68.28 L550.20,67.90 L551.27,67.65 L552.33,67.61 L553.40,67.63 L554.45,68.34 L555.50,69.61 L556.60,71.09 L557.70,72.51 L559.30,71.95 L560.60,69.43 L561.90,67.43 L562.97,66.25 L564.03,66.28 L565.10,65.35 L566.16,65.37 L567.22,65.47 L568.28,65.73 L569.34,66.20 L570.40,65.88 L571.48,65.88 L572.55,65.65 L573.62,65.19 L574.70,65.03 L575.66,64.73 L576.62,64.77 L577.58,64.91 L578.54,65.29 L579.50,65.20" fill="none" stroke="#111" stroke-width="1.1" stroke-linejoin="round"/>
<path d="M492.10,66.28 L492.36,66.41 L492.63,66.46 L492.89,67.09 L493.15,66.77 L493.42,67.26 L493.68,67.68 L493.95,67.38 L494.21,67.86 L494.47,68.09 L494.74,67.93 L495.00,68.33 L495.25,68.60 L495.50,68.53 L495.75,68.78 L496.00,68.51 L496.25,68.64 L496.50,68.65 L496.75,68.96 L497.00,69.29 L497.25,69.17 L497.50,69.36 L497.78,68.80 L498.07,68.68 L498.35,67.96 L498.63,67.74 L498.92,67.64 L499.20,67.47 L499.45,66.90 L499.70,66.29 L499.95,66.29 L500.20,66.01 L500.45,65.89 L500.70,66.31 L500.95,65.37 L501.20,65.98 L501.45,65.77 L501.70,64.30 L501.95,64.75 L502.20,64.83 L502.45,63.85 L502.70,64.44 L502.95,65.18 L503.20,63.62 L503.45,64.36 L503.70,63.38 L503.95,64.07 L504.20,64.75 L504.46,63.14 L504.73,62.72 L504.99,62.95 L505.25,64.10 L505.51,62.89 L505.77,63.10 L506.04,64.14 L506.30,65.38 L506.56,62.82 L506.82,61.59 L507.08,61.11 L507.34,58.42 L507.60,58.62 L507.86,57.13 L508.11,57.99 L508.37,58.61 L508.63,55.72 L508.89,56.77 L509.14,56.56 L509.40,54.99 L509.65,56.26 L509.90,59.12 L510.15,60.09 L510.40,58.78 L510.65,61.27 L510.90,62.78 L511.18,61.35 L511.47,62.53 L511.75,61.45 L512.03,62.51 L512.32,63.53 L512.60,63.58 L512.85,64.03 L513.10,62.73 L513.35,63.33 L513.60,64.45 L513.85,63.97 L514.10,63.78 L514.35,63.76 L514.60,65.01 L514.85,64.27 L515.10,63.33 L515.36,64.69 L515.62,63.79 L515.89,63.93 L516.15,63.48 L516.41,63.85 L516.68,63.58 L516.94,63.11 L517.20,64.03 L517.45,62.63 L517.70,63.39 L517.95,61.57 L518.20,62.47 L518.45,62.05 L518.70,61.04 L518.95,60.96 L519.20,59.67 L519.45,60.09 L519.70,59.05 L519.98,59.65 L520.27,62.09 L520.55,61.95 L520.83,62.88 L521.12,64.84 L521.40,64.84 L521.70,65.11 L522.00,63.79 L522.30,64.81 L522.60,63.32 L522.88,62.55 L523.17,64.05 L523.45,62.10 L523.73,63.29 L524.02,63.02 L524.30,61.91 L524.57,63.22 L524.83,65.82 L525.10,68.73 L525.36,68.20 L525.62,67.74 L525.88,67.49 L526.14,65.69 L526.40,64.67 L526.66,65.64 L526.92,65.59 L527.19,65.99 L527.45,67.02 L527.71,67.65 L527.98,67.35 L528.24,68.28 L528.50,68.96 L528.77,68.74 L529.03,68.17 L529.30,68.31 L529.57,67.47 L529.83,67.64 L530.10,67.36 L530.36,67.41 L530.61,67.17 L530.87,66.91 L531.12,66.87 L531.38,67.14 L531.63,66.91 L531.88,67.17 L532.14,66.83 L532.39,67.23 L532.65,66.88 L532.91,66.74 L533.16,66.83 L533.42,66.98 L533.67,67.03 L533.93,66.91 L534.18,66.76 L534.44,66.93 L534.69,67.20 L534.95,66.94 L535.20,67.16 L535.45,66.67 L535.70,67.31 L535.95,67.30 L536.20,67.15 L536.45,67.19 L536.70,67.25 L536.95,67.53 L537.20,67.08 L537.45,67.48 L537.70,67.48 L537.95,67.39 L538.20,67.69 L538.45,67.75 L538.70,67.43 L538.95,67.84 L539.20,67.75 L539.45,67.83 L539.70,67.97 L539.95,67.68 L540.20,68.00" fill="none" stroke="#111" stroke-width="0.9" stroke-linejoin="round"/>
<path d="M579.50,65.20 L580.90,68.90 L581.60,78.70 L581.90,88.40 L582.70,74.50 L583.20,73.10 L583.70,82.90 L584.40,89.80 L585.80,101.00 L586.90,99.60 L587.40,92.60 L588.50,85.00 L589.20,88.40 L589.90,95.40 L591.30,110.70 L592.70,119.10 L594.80,133.00 L596.20,155.30 L596.90,144.20 L598.00,117.70 L599.00,85.70 L599.40,80.80 L600.40,89.80 L601.80,91.90 L603.20,95.40 L604.60,103.80 L605.30,111.40 L606.00,106.60 L606.90,89.80 L608.30,75.90 L610.10,69.60 L612.30,66.60 L614.30,68.10 L615.30,79.50 L616.10,141.90 L616.80,85.60 L617.60,71.90 L618.40,70.40 L619.40,85.60 L620.30,70.40 L622.20,68.10 L625.20,67.40 L627.00,70.40 L627.90,85.60 L628.60,111.50 L629.50,93.20 L630.50,103.90 L631.30,125.20 L632.50,148.00 L633.60,131.30 L635.10,97.80 L636.60,85.60 L638.10,78.00 L639.20,75.70 L640.40,82.60 L641.20,85.60 L641.90,47.60 L642.70,58.30 L643.50,97.80 L644.20,78.00" fill="none" stroke="#111" stroke-width="0.9" stroke-linejoin="round"/>
<text x="374.80" y="94.70" font-size="8.6" font-weight="bold" letter-spacing="0.62" fill="#222" text-anchor="start" >OH</text>
<text x="389.24" y="90.20" font-size="4" font-weight="bold" letter-spacing="0" fill="#222" text-anchor="start" >-</text>
<text x="374.80" y="105.50" font-size="8.6" font-weight="bold" letter-spacing="0.62" fill="#222" text-anchor="start" >stretched</text>
<line x1="392.60" y1="85.90" x2="404.57" y2="79.20" stroke="#555" stroke-width="0.6"/><polygon points="408.50,77.00 405.40,80.68 403.74,77.71" fill="#111"/>
<text x="438.50" y="96.00" font-size="8.6" font-weight="bold" letter-spacing="0.62" fill="#222" text-anchor="start" >H</text>
<text x="445.93" y="99.00" font-size="4" font-weight="bold" letter-spacing="0" fill="#222" text-anchor="start" >2</text>
<text x="448.96" y="96.00" font-size="8.6" font-weight="bold" letter-spacing="0.62" fill="#222" text-anchor="start" >O</text>
<text x="438.50" y="109.80" font-size="8.6" font-weight="bold" letter-spacing="0.62" fill="#222" text-anchor="start" >absorbed</text>
<line x1="453.50" y1="86.40" x2="483.75" y2="71.67" stroke="#555" stroke-width="0.6"/><polygon points="487.80,69.70 484.50,73.20 483.01,70.14" fill="#111"/>
<text x="517.70" y="97.60" font-size="8.6" font-weight="bold" letter-spacing="0.62" fill="#222" text-anchor="start" >CO</text>
<text x="531.54" y="93.80" font-size="7.2" font-weight="bold" letter-spacing="0" fill="#222" text-anchor="start" >2-</text>
<text x="531.54" y="100.60" font-size="9.2" font-weight="bold" letter-spacing="0" fill="#222" text-anchor="start" >3</text>
<text x="517.70" y="110.60" font-size="8.6" font-weight="bold" letter-spacing="0.62" fill="#222" text-anchor="start" >absorbed</text>
<line x1="540.20" y1="86.70" x2="550.93" y2="77.86" stroke="#555" stroke-width="0.6"/><polygon points="554.40,75.00 552.01,79.17 549.85,76.55" fill="#111"/>
<text x="560.20" y="173.40" font-size="8.0" font-weight="bold" letter-spacing="0.5" fill="#222" text-anchor="start" >PO</text>
<text x="572.56" y="168.80" font-size="6.8" font-weight="bold" letter-spacing="0" fill="#222" text-anchor="start" >3-</text>
<text x="572.56" y="175.70" font-size="8.8" font-weight="bold" letter-spacing="0" fill="#222" text-anchor="start" >4</text>
<text x="500.40" y="188.10" font-size="8.6" font-weight="bold" letter-spacing="0.62" fill="#222" text-anchor="start" >bending motion</text>
<text x="575.00" y="187.80" font-size="6.46" font-weight="normal" letter-spacing="0" fill="#222" text-anchor="start" >[</text>
<text x="577.09" y="188.10" font-size="7.6" font-weight="normal" letter-spacing="0" fill="#222" text-anchor="start" >υ</text>
<text x="581.05" y="189.70" font-size="9.2" font-weight="normal" letter-spacing="0" fill="#222" text-anchor="start" >3</text>
<text x="586.37" y="187.80" font-size="6.46" font-weight="normal" letter-spacing="0" fill="#222" text-anchor="start" >]</text>
<line x1="578.60" y1="181.30" x2="588.86" y2="179.49" stroke="#555" stroke-width="0.6"/><polygon points="592.80,178.80 589.12,180.97 588.60,178.02" fill="#111"/>
<text x="613.40" y="160.90" font-size="5.8" font-weight="bold" letter-spacing="0.62" fill="#222" text-anchor="start" >PO</text>
<text x="623.12" y="157.70" font-size="4.6" font-weight="bold" letter-spacing="0" fill="#222" text-anchor="start" >3-</text>
<text x="623.12" y="162.70" font-size="5.6" font-weight="bold" letter-spacing="0" fill="#222" text-anchor="start" >4</text>
<text x="627.21" y="160.90" font-size="5.8" font-weight="bold" letter-spacing="0.62" fill="#222" text-anchor="start" > -</text>
<text x="613.40" y="171.60" font-size="5.8" font-weight="normal" letter-spacing="0.62" fill="#222" text-anchor="start"  stroke="#222" stroke-width="0.2">asym-</text>
<text x="613.40" y="180.00" font-size="5.8" font-weight="normal" letter-spacing="0.62" fill="#222" text-anchor="start"  stroke="#222" stroke-width="0.2">metric</text>
<text x="613.40" y="188.30" font-size="5.8" font-weight="normal" letter-spacing="0.62" fill="#222" text-anchor="start"  stroke="#222" stroke-width="0.2">stretch</text>
<text x="613.40" y="196.70" font-size="4.76" font-weight="normal" letter-spacing="0" fill="#222" text-anchor="start" >[</text>
<text x="615.02" y="197.00" font-size="5.6" font-weight="normal" letter-spacing="0" fill="#222" text-anchor="start" >υ</text>
<text x="617.88" y="198.00" font-size="6.4" font-weight="normal" letter-spacing="0" fill="#222" text-anchor="start" >2</text>
<text x="621.64" y="196.70" font-size="4.76" font-weight="normal" letter-spacing="0" fill="#222" text-anchor="start" >]</text>
<line x1="637.70" y1="162.50" x2="637.70" y2="152.00" stroke="#bbb" stroke-width="0.9"/><polygon points="637.70,148.00 639.20,152.00 636.20,152.00" fill="#111"/>
<rect x="592.5" y="21.5" width="45" height="10.5" fill="#fff" stroke="#ececec" stroke-width="0.8"/>
<text x="594.60" y="29.10" font-size="9.1" font-weight="bold" letter-spacing="0" fill="#222" text-anchor="start" >nHAP_5P</text><path d="M35.20,331.25 L35.88,331.27 L36.55,331.57 L37.23,330.96 L37.90,330.91 L38.58,330.90 L39.25,330.35 L39.93,330.61 L40.60,330.64 L41.23,331.08 L41.87,330.57 L42.50,331.06 L43.13,331.08 L43.77,332.13 L44.40,332.26 L45.03,331.80 L45.67,333.10 L46.30,333.34 L46.93,333.25 L47.57,333.47 L48.20,333.22 L48.86,332.62 L49.51,332.75 L50.17,331.79 L50.83,331.49 L51.49,331.10 L52.14,330.43 L52.80,330.46 L53.43,330.48 L54.07,330.96 L54.70,330.65 L55.33,330.82 L55.97,330.71 L56.60,330.93 L57.23,330.74 L57.87,330.59 L58.50,331.42 L59.13,331.46 L59.77,331.33 L60.40,331.23 L61.00,330.68 L61.60,330.46 L62.20,330.41 L62.80,330.05 L63.40,330.69 L64.00,330.17 L64.60,330.54 L65.20,329.92 L65.80,330.42 L66.40,330.18 L67.03,329.18 L67.67,329.35 L68.30,330.05 L69.10,326.77 L69.80,334.13 L70.50,327.09 L71.20,333.93 L72.00,328.54 L72.80,332.91 L73.60,328.69 L74.22,328.27 L74.85,328.78 L75.47,330.15 L76.10,329.67 L76.72,328.23 L77.35,328.49 L77.97,328.15 L78.60,328.03 L79.23,329.65 L79.87,328.29 L80.50,329.13 L81.13,328.88 L81.77,328.32 L82.40,329.51 L83.03,328.19 L83.67,329.32 L84.30,328.16 L84.93,328.83 L85.57,328.37 L86.20,328.49 L86.83,330.16 L87.47,329.92 L88.10,328.94 L88.73,330.35 L89.37,328.99 L90.00,329.52 L90.63,330.65 L91.27,330.31 L91.90,329.25 L92.53,331.33 L93.17,329.74 L93.80,329.97 L94.41,331.08 L95.02,330.08 L95.62,329.99 L96.23,329.48 L96.84,329.50 L97.45,330.56 L98.06,329.79 L98.66,330.56 L99.27,330.04 L99.88,330.20 L100.49,331.29 L101.10,330.22 L101.70,330.40 L102.31,331.03 L102.92,329.50 L103.53,329.42 L104.14,331.06 L104.74,330.84 L105.35,329.57 L105.96,329.42 L106.57,330.61 L107.18,331.03 L107.78,329.37 L108.39,331.01 L109.00,330.42 L109.63,330.03 L110.27,329.75 L110.90,329.31 L111.53,329.16 L112.17,330.09 L112.80,329.21 L113.43,329.64 L114.07,329.07 L114.70,329.61 L115.33,329.27 L115.97,328.86 L116.60,328.64 L117.23,329.08 L117.87,328.19 L118.50,328.20 L119.13,328.40 L119.77,328.55 L120.40,328.13 L121.03,327.59 L121.67,328.13 L122.30,327.17 L122.93,326.80 L123.57,326.91 L124.20,326.94 L124.83,326.50 L125.46,326.60 L126.09,326.79 L126.71,326.99 L127.34,326.49 L127.97,326.72 L128.60,327.28 L129.23,327.36 L129.86,326.98 L130.49,327.00 L131.11,326.86 L131.74,326.35 L132.37,326.21 L133.00,326.17 L133.61,327.10 L134.22,326.82 L134.83,327.06 L135.44,325.97 L136.05,326.60 L136.66,326.38 L137.27,326.60 L137.88,326.10 L138.49,326.80 L139.10,325.73 L139.71,326.20 L140.31,326.35 L140.92,326.48 L141.53,326.25 L142.13,326.16 L142.74,326.20 L143.35,326.28 L143.95,325.61 L144.56,325.92 L145.17,326.11 L145.77,326.02 L146.38,325.47 L146.99,325.83 L147.59,325.85 L148.20,325.48 L148.81,325.46 L149.42,325.12 L150.03,325.27 L150.64,325.22 L151.25,324.56 L151.86,325.10 L152.47,325.42 L153.08,325.22 L153.69,324.98 L154.30,324.53 L154.91,324.83 L155.52,324.59 L156.13,324.36 L156.74,324.72 L157.35,323.82 L157.96,324.48 L158.57,323.61 L159.18,324.16 L159.79,323.95 L160.40,323.90 L160.81,324.43 L161.23,324.77 L161.64,325.28 L162.06,324.96 L162.47,325.34 L162.89,325.60 L163.30,326.03 L163.73,326.78 L164.16,326.42 L164.59,327.06 L165.01,326.99 L165.44,327.31 L165.87,327.69 L166.30,328.34 L166.72,327.53 L167.14,326.35 L167.56,326.04 L167.98,325.33 L168.40,325.47 L169.20,323.31 L169.61,322.99 L170.02,322.70 L170.44,322.31 L170.85,322.20 L171.26,321.73 L171.68,320.88 L172.09,321.16 L172.50,320.49 L172.92,320.69 L173.33,320.43 L173.75,320.23 L174.17,320.10 L174.58,320.10 L175.00,319.91 L175.43,317.82 L175.85,316.62 L176.27,314.70 L176.70,312.99 L177.17,311.77 L177.65,310.70 L178.12,309.97 L178.60,308.43 L179.10,311.34 L179.60,313.48 L180.10,315.58 L180.63,317.00 L181.17,318.72 L181.70,319.85 L182.12,320.21 L182.55,320.51 L182.97,320.45 L183.40,320.33 L183.82,320.84 L184.25,320.74 L184.67,320.89 L185.10,320.99 L185.53,320.24 L185.95,319.02 L186.38,318.68 L186.80,318.05 L187.20,316.57 L187.60,315.98 L188.00,315.27 L188.40,313.46 L188.80,312.64 L189.23,314.86 L189.65,316.44 L190.07,317.79 L190.50,318.86 L190.93,320.78 L191.37,322.90 L191.80,324.59 L192.40,322.00 L193.00,318.90 L193.45,318.75 L193.90,317.47 L194.70,329.02 L195.13,326.37 L195.57,325.14 L196.00,322.70 L196.60,325.72 L197.20,328.11 L197.63,327.28 L198.07,326.01 L198.50,324.79 L198.91,324.56 L199.32,324.93 L199.74,324.54 L200.15,324.50 L200.56,324.36 L200.98,324.88 L201.39,324.31 L201.80,324.43 L202.23,324.27 L202.65,324.84 L203.07,324.76 L203.50,324.74 L203.93,324.24 L204.35,324.64 L204.77,324.54 L205.20,324.70 L206.20,325.23 L207.20,325.66 L208.20,325.51 L209.20,326.17 L210.20,326.44 L211.18,326.59 L212.16,326.39 L213.14,326.51 L214.12,326.94 L215.10,327.37 L216.12,326.86 L217.13,326.87 L218.15,326.57 L219.17,326.78 L220.18,326.68 L221.20,326.13 L222.20,326.28 L223.20,325.36 L224.20,325.62 L225.35,328.11 L226.50,330.06 L228.00,332.94 L229.60,331.84 L231.10,328.62 L232.10,326.90 L233.10,325.93 L234.10,324.97 L235.12,324.55 L236.15,324.07 L237.17,323.66 L238.20,324.01 L239.20,323.68 L240.20,324.05 L241.20,323.45 L242.23,323.42 L243.27,322.92 L244.30,322.49 L245.33,321.86 L246.35,322.11 L247.38,321.89 L248.40,322.38 L249.65,322.60 L250.90,323.20" fill="none" stroke="#dd2222" stroke-width="1.1" stroke-linejoin="round"/>
<path d="M160.40,324.01 L160.66,324.29 L160.93,324.35 L161.19,324.56 L161.45,324.71 L161.72,325.29 L161.98,325.08 L162.25,325.22 L162.51,325.50 L162.77,325.72 L163.04,325.98 L163.30,326.16 L163.55,326.21 L163.80,326.48 L164.05,326.61 L164.30,326.91 L164.55,326.83 L164.80,326.89 L165.05,327.11 L165.30,327.46 L165.55,327.51 L165.80,327.86 L166.05,328.04 L166.30,327.93 L166.56,327.32 L166.83,327.46 L167.09,327.12 L167.35,326.47 L167.61,326.31 L167.88,325.66 L168.14,325.79 L168.40,325.50 L168.67,324.75 L168.93,324.24 L169.20,322.52 L169.45,322.89 L169.71,323.03 L169.96,322.97 L170.22,322.03 L170.47,321.39 L170.72,322.07 L170.98,320.94 L171.23,321.83 L171.48,320.38 L171.74,321.00 L171.99,320.85 L172.25,320.01 L172.50,320.45 L172.75,320.46 L173.00,320.11 L173.25,321.33 L173.50,321.22 L173.75,321.24 L174.00,319.65 L174.25,319.08 L174.50,319.88 L174.75,319.21 L175.00,320.67 L175.28,318.17 L175.57,316.53 L175.85,315.69 L176.13,314.76 L176.42,314.43 L176.70,312.39 L176.97,311.41 L177.24,311.94 L177.51,309.64 L177.79,309.57 L178.06,310.38 L178.33,310.03 L178.60,307.76 L178.85,308.86 L179.10,311.18 L179.35,312.76 L179.60,312.28 L179.85,314.55 L180.10,315.36 L180.37,315.60 L180.63,316.51 L180.90,317.49 L181.17,318.62 L181.43,318.47 L181.70,320.34 L181.96,320.95 L182.22,320.65 L182.48,319.51 L182.75,320.77 L183.01,320.83 L183.27,319.67 L183.53,320.52 L183.79,321.14 L184.05,321.83 L184.32,321.88 L184.58,321.25 L184.84,321.39 L185.10,322.13 L185.38,320.16 L185.67,320.08 L185.95,318.66 L186.23,319.33 L186.52,318.49 L186.80,317.08 L187.05,316.48 L187.30,316.49 L187.55,316.33 L187.80,314.64 L188.05,314.41 L188.30,314.17 L188.55,313.15 L188.80,313.77 L189.08,314.48 L189.37,315.98 L189.65,316.38 L189.93,317.50 L190.22,317.74 L190.50,319.21 L190.76,320.06 L191.02,321.16 L191.28,321.32 L191.54,323.90 L191.80,323.51 L192.10,322.87 L192.40,322.56 L192.70,320.48 L193.00,319.94 L193.30,318.19 L193.60,318.07 L193.90,317.41 L194.17,321.05 L194.43,324.86 L194.70,328.73 L194.96,327.97 L195.22,326.89 L195.48,324.59 L195.74,324.04 L196.00,322.63 L196.30,323.96 L196.60,325.04 L196.90,326.81 L197.20,328.25 L197.46,327.55 L197.72,326.99 L197.98,326.07 L198.24,325.28 L198.50,324.56 L198.75,324.99 L199.01,324.64 L199.26,324.98 L199.52,324.50 L199.77,324.80 L200.02,324.73 L200.28,324.83 L200.53,324.71 L200.78,324.92 L201.04,324.75 L201.29,324.43 L201.55,324.81 L201.80,324.77 L202.06,324.55 L202.32,324.84 L202.58,324.90 L202.85,324.57 L203.11,324.49 L203.37,324.57 L203.63,324.75 L203.89,324.67 L204.15,324.44 L204.42,324.67 L204.68,324.73 L204.94,324.75 L205.20,324.70" fill="none" stroke="#dd2222" stroke-width="0.9" stroke-linejoin="round"/>
<path d="M250.90,323.20 L251.60,330.30 L252.20,340.50 L252.60,357.70 L253.40,340.50 L254.20,334.40 L254.90,348.60 L256.00,360.80 L257.20,373.10 L258.00,370.90 L259.30,351.60 L260.40,360.20 L262.50,396.80 L264.00,401.10 L265.80,426.90 L267.50,453.80 L269.00,420.40 L270.50,345.20 L271.80,358.10 L274.40,362.40 L276.50,390.30 L278.20,364.50 L280.40,332.30 L283.00,325.40 L286.20,328.00 L287.30,431.00 L288.40,332.60 L290.00,328.00 L291.40,348.60 L293.00,328.00 L296.40,325.80 L298.70,330.30 L300.10,362.40 L301.00,387.50 L301.90,362.40 L302.80,376.10 L303.80,408.10 L304.60,444.30 L306.10,417.30 L307.90,362.40 L309.00,353.20 L310.60,337.20 L312.00,341.80 L313.60,355.50 L314.30,296.00 L315.20,309.70 L315.90,367.00 L316.60,348.60" fill="none" stroke="#dd2222" stroke-width="1.0" stroke-linejoin="round"/>
<text x="41.60" y="358.00" font-size="8.8" font-weight="bold" letter-spacing="0.55" fill="#222" text-anchor="start" >OH</text>
<text x="56.20" y="353.50" font-size="4" font-weight="bold" letter-spacing="0" fill="#222" text-anchor="start" >-</text>
<text x="41.60" y="370.00" font-size="8.8" font-weight="bold" letter-spacing="0.55" fill="#222" text-anchor="start" >stretched</text>
<line x1="60.40" y1="347.20" x2="71.82" y2="339.84" stroke="#555" stroke-width="0.6"/><polygon points="75.60,337.40 72.74,341.27 70.90,338.41" fill="#111"/>
<text x="106.80" y="359.00" font-size="8.8" font-weight="bold" letter-spacing="0.55" fill="#222" text-anchor="start" >H</text>
<text x="114.31" y="362.00" font-size="4.5" font-weight="bold" letter-spacing="0" fill="#222" text-anchor="start" >2</text>
<text x="116.20" y="359.00" font-size="8.8" font-weight="bold" letter-spacing="0.55" fill="#222" text-anchor="start" >O</text>
<text x="106.80" y="374.60" font-size="8.8" font-weight="bold" letter-spacing="0.55" fill="#222" text-anchor="start" >absorbed</text>
<line x1="130.00" y1="343.60" x2="153.45" y2="330.85" stroke="#555" stroke-width="0.6"/><polygon points="157.40,328.70 154.26,332.34 152.63,329.36" fill="#111"/>
<text x="187.80" y="359.40" font-size="8.8" font-weight="bold" letter-spacing="0.55" fill="#222" text-anchor="start" >CO</text>
<text x="201.80" y="355.60" font-size="7.2" font-weight="bold" letter-spacing="0" fill="#222" text-anchor="start" >2-</text>
<text x="201.80" y="362.40" font-size="9.2" font-weight="bold" letter-spacing="0" fill="#222" text-anchor="start" >3</text>
<text x="187.80" y="375.80" font-size="8.8" font-weight="bold" letter-spacing="0.55" fill="#222" text-anchor="start" >absorbed</text>
<line x1="211.00" y1="347.50" x2="222.29" y2="337.74" stroke="#555" stroke-width="0.6"/><polygon points="225.70,334.80 223.41,339.03 221.18,336.46" fill="#111"/>
<text x="231.90" y="438.10" font-size="8.8" font-weight="bold" letter-spacing="0.55" fill="#222" text-anchor="start" >PO</text>
<text x="245.51" y="433.50" font-size="6.8" font-weight="bold" letter-spacing="0" fill="#222" text-anchor="start" >3-</text>
<text x="245.51" y="440.40" font-size="8.8" font-weight="bold" letter-spacing="0" fill="#222" text-anchor="start" >4</text>
<text x="170.40" y="454.30" font-size="8.8" font-weight="bold" letter-spacing="0.55" fill="#222" text-anchor="start" >bending motion</text>
<text x="247.00" y="454.00" font-size="6.969999999999999" font-weight="normal" letter-spacing="0" fill="#222" text-anchor="start" >[</text>
<text x="249.24" y="454.30" font-size="8.2" font-weight="normal" letter-spacing="0" fill="#222" text-anchor="start" >υ</text>
<text x="253.52" y="455.90" font-size="9.2" font-weight="normal" letter-spacing="0" fill="#222" text-anchor="start" >3</text>
<text x="258.84" y="454.00" font-size="6.969999999999999" font-weight="normal" letter-spacing="0" fill="#222" text-anchor="start" >]</text>
<line x1="250.30" y1="447.10" x2="261.08" y2="444.97" stroke="#555" stroke-width="0.6"/><polygon points="265.00,444.20 261.37,446.45 260.79,443.50" fill="#111"/>
<text x="284.40" y="440.50" font-size="4.9" font-weight="bold" letter-spacing="0.85" fill="#555" text-anchor="start" >PO</text>
<text x="293.28" y="437.50" font-size="4.2" font-weight="bold" letter-spacing="0" fill="#555" text-anchor="start" >3-</text>
<text x="293.28" y="442.10" font-size="4.2" font-weight="bold" letter-spacing="0" fill="#555" text-anchor="start" >4</text>
<text x="297.01" y="440.50" font-size="4.9" font-weight="bold" letter-spacing="0.85" fill="#555" text-anchor="start" > -</text>
<text x="284.40" y="449.60" font-size="4.9" font-weight="bold" letter-spacing="0.85" fill="#555" text-anchor="start" >asym-</text>
<text x="284.40" y="456.90" font-size="4.9" font-weight="bold" letter-spacing="0.85" fill="#555" text-anchor="start" >metric</text>
<text x="284.40" y="464.50" font-size="4.9" font-weight="bold" letter-spacing="0.85" fill="#555" text-anchor="start" >stretch</text>
<text x="284.40" y="471.80" font-size="4.42" font-weight="normal" letter-spacing="0" fill="#555" text-anchor="start" >[</text>
<text x="285.93" y="472.10" font-size="5.2" font-weight="normal" letter-spacing="0" fill="#555" text-anchor="start" >υ</text>
<text x="288.57" y="473.00" font-size="5.8" font-weight="normal" letter-spacing="0" fill="#555" text-anchor="start" >2</text>
<text x="292.00" y="471.80" font-size="4.42" font-weight="normal" letter-spacing="0" fill="#555" text-anchor="start" >]</text>
<line x1="295.30" y1="424.00" x2="295.30" y2="412.00" stroke="#555" stroke-width="0.7"/><polygon points="295.30,408.00 296.70,412.00 293.90,412.00" fill="#111"/>
<line x1="313.60" y1="428.70" x2="313.60" y2="416.70" stroke="#555" stroke-width="0.7"/><polygon points="313.60,412.70 315.00,416.70 312.20,416.70" fill="#111"/>
<rect x="260.4" y="272.4" width="52" height="11.4" fill="#fff" stroke="#ececec" stroke-width="0.8"/>
<text x="262.70" y="280.80" font-size="9.5" font-weight="bold" letter-spacing="0" fill="#222" text-anchor="start" >nHAP_10P</text><path d="M370.30,295.20 C370.73,294.85 371.67,293.60 372.90,293.10 C374.13,292.60 375.68,292.40 377.70,292.20 C379.72,292.00 383.17,291.60 385.00,291.90 C386.83,292.20 387.28,292.53 388.70,294.00 C390.12,295.47 391.68,297.97 393.50,300.70 C395.32,303.43 397.57,306.97 399.60,310.40 C401.63,313.83 403.87,317.85 405.70,321.30 C407.53,324.75 409.18,328.70 410.60,331.10 C412.02,333.50 413.20,335.00 414.20,335.70 C415.20,336.40 415.58,336.28 416.60,335.30 C417.62,334.32 418.67,332.13 420.30,329.80 C421.93,327.47 424.17,324.13 426.40,321.30 C428.63,318.47 431.27,315.43 433.70,312.80 C436.13,310.17 438.62,307.32 441.00,305.50 C443.38,303.68 446.57,302.48 448.00,301.90 C449.43,301.32 448.93,301.92 449.60,302.00 C450.27,302.08 451.00,302.20 452.00,302.40 C453.00,302.60 454.23,303.70 455.60,303.20 C456.97,302.70 458.42,300.45 460.20,299.40 C461.98,298.35 463.77,297.45 466.30,296.90 C468.83,296.35 472.37,296.05 475.40,296.10 C478.43,296.15 480.95,297.22 484.50,297.20 C488.05,297.18 492.65,295.95 496.70,296.00 C500.75,296.05 504.75,297.18 508.80,297.50 C512.85,297.82 517.70,298.00 521.00,297.90 C524.30,297.80 526.07,296.82 528.60,296.90 C531.13,296.98 534.30,297.90 536.20,298.40 C538.10,298.90 538.77,299.47 540.00,299.90 C541.23,300.33 542.38,300.82 543.60,301.00 C544.82,301.18 546.23,300.40 547.30,301.00 C548.37,301.60 549.08,303.17 550.00,304.60 C550.92,306.03 552.03,308.47 552.80,309.60 C553.57,310.73 553.92,311.47 554.60,311.40 C555.28,311.33 556.15,310.63 556.90,309.20 C557.65,307.77 558.35,304.63 559.10,302.80 C559.85,300.97 560.72,298.73 561.40,298.20 C562.08,297.67 562.52,298.38 563.20,299.60 C563.88,300.82 564.65,303.45 565.50,305.50 C566.35,307.55 567.47,310.40 568.30,311.90 C569.13,313.40 569.60,314.20 570.50,314.50 C571.40,314.80 572.70,313.75 573.70,313.70 C574.70,313.65 575.58,313.58 576.50,314.20 C577.42,314.82 578.15,315.80 579.20,317.40 C580.25,319.00 581.78,320.98 582.80,323.80 C583.82,326.62 584.32,328.75 585.30,334.30 C586.28,339.85 587.57,347.58 588.70,357.10 C589.83,366.62 590.95,379.97 592.10,391.40 C593.25,402.83 594.63,416.17 595.60,425.70 C596.57,435.23 597.22,443.27 597.90,448.60 C598.58,453.93 599.13,458.08 599.70,457.70 C600.27,457.32 600.65,453.53 601.30,446.30 C601.95,439.07 602.83,426.12 603.60,414.30 C604.37,402.48 605.15,386.83 605.90,375.40 C606.65,363.97 607.40,353.60 608.10,345.70 C608.80,337.80 609.43,332.62 610.10,328.00 C610.77,323.38 611.43,320.58 612.10,318.00 C612.77,315.42 613.42,313.93 614.10,312.50 C614.78,311.07 615.52,310.00 616.20,309.40 C616.88,308.80 617.45,308.82 618.20,308.90 C618.95,308.98 619.85,309.65 620.70,309.90 C621.55,310.15 622.53,310.82 623.30,310.40 C624.07,309.98 624.63,309.42 625.30,307.40 C625.97,305.38 626.67,300.33 627.30,298.30 C627.93,296.27 628.50,295.38 629.10,295.20 C629.70,295.02 630.27,295.33 630.90,297.20 C631.53,299.07 632.15,302.85 632.90,306.40 C633.65,309.95 634.55,315.47 635.40,318.50 C636.25,321.53 637.15,322.05 638.00,324.60 C638.85,327.15 639.67,330.92 640.50,333.80 C641.33,336.68 642.18,339.72 643.00,341.90 C643.82,344.08 644.72,346.90 645.40,346.90 C646.08,346.90 646.57,344.60 647.10,341.90 C647.63,339.20 648.18,335.10 648.60,330.70 C649.02,326.30 649.30,320.57 649.60,315.50 C649.90,310.43 650.20,304.87 650.40,300.30 C650.60,295.73 650.73,290.13 650.80,288.10" fill="none" stroke="#9a9a2a" stroke-width="1.3" stroke-linejoin="round"/>
<text x="385.80" y="354.20" font-size="5.9" font-weight="bold" letter-spacing="0.55" fill="#222" text-anchor="start" >OH</text>
<text x="396.05" y="351.40" font-size="3.6" font-weight="bold" letter-spacing="0" fill="#222" text-anchor="start" >-</text>
<text x="398.75" y="354.20" font-size="5.9" font-weight="bold" letter-spacing="0.55" fill="#222" text-anchor="start" >stretched</text>
<line x1="401.30" y1="346.60" x2="412.53" y2="338.70" stroke="#555" stroke-width="0.6"/><polygon points="415.80,336.40 413.45,340.01 411.61,337.39" fill="#111"/>
<text x="444.90" y="332.20" font-size="5.9" font-weight="bold" letter-spacing="0.55" fill="#222" text-anchor="start" >H</text>
<text x="449.81" y="334.00" font-size="3.6" font-weight="bold" letter-spacing="0" fill="#222" text-anchor="start" >2</text>
<text x="452.01" y="332.20" font-size="5.9" font-weight="bold" letter-spacing="0.55" fill="#222" text-anchor="start" >O absorbed</text>
<line x1="454.10" y1="321.50" x2="455.88" y2="307.97" stroke="#555" stroke-width="0.6"/><polygon points="456.40,304.00 457.47,308.17 454.29,307.76" fill="#111"/>
<text x="511.10" y="325.80" font-size="5.9" font-weight="bold" letter-spacing="0.55" fill="#222" text-anchor="start" >CO</text>
<text x="521.35" y="323.32" font-size="3.6" font-weight="bold" letter-spacing="0" fill="#222" text-anchor="start" >2-</text>
<text x="521.35" y="327.69" font-size="3.6" font-weight="bold" letter-spacing="0" fill="#222" text-anchor="start" >3</text>
<text x="524.55" y="325.80" font-size="5.9" font-weight="bold" letter-spacing="0.55" fill="#222" text-anchor="start" > -</text>
<text x="511.10" y="336.30" font-size="5.9" font-weight="bold" letter-spacing="0.55" fill="#222" text-anchor="start" >absorbed</text>
<line x1="540.70" y1="331.90" x2="552.29" y2="320.95" stroke="#555" stroke-width="0.6"/><polygon points="555.20,318.20 553.39,322.11 551.19,319.78" fill="#111"/>
<text x="549.80" y="339.50" font-size="5.9" font-weight="bold" letter-spacing="0.55" fill="#222" text-anchor="start" >CO</text>
<text x="560.05" y="337.02" font-size="3.6" font-weight="bold" letter-spacing="0" fill="#222" text-anchor="start" >2-</text>
<text x="560.05" y="341.39" font-size="3.6" font-weight="bold" letter-spacing="0" fill="#222" text-anchor="start" >3</text>
<text x="563.25" y="339.50" font-size="5.9" font-weight="bold" letter-spacing="0.55" fill="#222" text-anchor="start" > -</text>
<text x="549.80" y="349.30" font-size="5.9" font-weight="bold" letter-spacing="0.55" fill="#222" text-anchor="start" >bending</text>
<text x="549.80" y="359.20" font-size="5.9" font-weight="bold" letter-spacing="0.55" fill="#222" text-anchor="start" >motion [υ</text>
<text x="581.75" y="361.09" font-size="3.6" font-weight="bold" letter-spacing="0" fill="#222" text-anchor="start" >3</text>
<text x="583.75" y="359.20" font-size="5.9" font-weight="bold" letter-spacing="0.55" fill="#222" text-anchor="start" >]</text>
<line x1="568.50" y1="334.10" x2="570.18" y2="321.37" stroke="#555" stroke-width="0.6"/><polygon points="570.70,317.40 571.76,321.57 568.59,321.16" fill="#111"/>
<text x="565.50" y="279.90" font-size="6.8" font-weight="bold" letter-spacing="0.4" fill="#222" text-anchor="start" >CO</text>
<text x="576.80" y="277.04" font-size="3.9" font-weight="bold" letter-spacing="0" fill="#222" text-anchor="start" >2-</text>
<text x="576.80" y="282.08" font-size="3.9" font-weight="bold" letter-spacing="0" fill="#222" text-anchor="start" >3</text>
<text x="580.27" y="279.90" font-size="6.8" font-weight="bold" letter-spacing="0.4" fill="#222" text-anchor="start" > -</text>
<text x="565.50" y="291.10" font-size="6.5" font-weight="bold" letter-spacing="0.4" fill="#222" text-anchor="start" >asymmetric</text>
<text x="565.50" y="302.70" font-size="6.5" font-weight="bold" letter-spacing="0.4" fill="#222" text-anchor="start" >stretch [υ</text>
<text x="599.23" y="304.78" font-size="3.9" font-weight="bold" letter-spacing="0" fill="#222" text-anchor="start" >2</text>
<text x="601.40" y="302.70" font-size="6.5" font-weight="bold" letter-spacing="0.4" fill="#222" text-anchor="start" >]</text>
<line x1="605.00" y1="295.20" x2="617.74" y2="304.28" stroke="#555" stroke-width="0.6"/><polygon points="621.00,306.60 616.81,305.58 618.67,302.98" fill="#111"/>
<text x="613.30" y="380.60" font-size="5.9" font-weight="bold" letter-spacing="0.55" fill="#222" text-anchor="start" >PO</text>
<text x="623.22" y="378.12" font-size="3.6" font-weight="bold" letter-spacing="0" fill="#222" text-anchor="start" >3-</text>
<text x="623.22" y="382.49" font-size="3.6" font-weight="bold" letter-spacing="0" fill="#222" text-anchor="start" >4</text>
<text x="626.43" y="380.60" font-size="5.9" font-weight="bold" letter-spacing="0.55" fill="#222" text-anchor="start" > -</text>
<text x="613.30" y="391.30" font-size="5.9" font-weight="bold" letter-spacing="0.45" fill="#222" text-anchor="start" >asymmetric</text>
<text x="613.30" y="399.20" font-size="5.9" font-weight="bold" letter-spacing="0.55" fill="#222" text-anchor="start" >stretch</text>
<text x="613.30" y="408.60" font-size="5.9" font-weight="bold" letter-spacing="0.55" fill="#222" text-anchor="start" >[υ</text>
<text x="620.10" y="410.49" font-size="3.6" font-weight="bold" letter-spacing="0" fill="#222" text-anchor="start" >2</text>
<text x="622.10" y="408.60" font-size="5.9" font-weight="bold" letter-spacing="0.55" fill="#222" text-anchor="start" >]</text>
<line x1="633.30" y1="369.50" x2="642.03" y2="357.62" stroke="#555" stroke-width="0.6"/><polygon points="644.40,354.40 643.32,358.57 640.74,356.68" fill="#111"/>
<text x="501.80" y="458.20" font-size="6.0" font-weight="bold" letter-spacing="0.3" fill="#222" text-anchor="start" >PO</text>
<text x="511.37" y="455.68" font-size="3.8" font-weight="bold" letter-spacing="0" fill="#222" text-anchor="start" >3-</text>
<text x="511.37" y="460.12" font-size="3.8" font-weight="bold" letter-spacing="0" fill="#222" text-anchor="start" >4</text>
<text x="514.75" y="458.20" font-size="6.5" font-weight="bold" letter-spacing="0.62" fill="#222" text-anchor="start" >- bending motion [υ</text>
<text x="586.99" y="460.28" font-size="3.8" font-weight="bold" letter-spacing="0" fill="#222" text-anchor="start" >3</text>
<text x="589.11" y="458.20" font-size="6.5" font-weight="bold" letter-spacing="0.62" fill="#222" text-anchor="start" >]</text>
<line x1="584.30" y1="456.00" x2="593.33" y2="454.89" stroke="#555" stroke-width="0.6"/><polygon points="597.30,454.40 593.53,456.48 593.13,453.30" fill="#111"/>
<rect x="596.4" y="270.5" width="51.5" height="11.8" fill="#fff" stroke="#e8e8e8" stroke-width="0.8"/>
<text x="598.60" y="279.60" font-size="9.5" font-weight="bold" letter-spacing="0" fill="#222" text-anchor="start" >nHAP_20P</text><path d="M27.20,575.60 C28.27,575.35 31.27,574.47 33.60,574.10 C35.93,573.73 38.92,573.27 41.20,573.40 C43.48,573.53 45.40,574.65 47.30,574.90 C49.20,575.15 51.08,574.52 52.60,574.90 C54.12,575.28 55.13,576.37 56.40,577.20 C57.67,578.03 58.93,579.40 60.20,579.90 C61.47,580.40 62.87,580.28 64.00,580.20 C65.13,580.12 65.98,579.20 67.00,579.40 C68.02,579.60 69.08,581.02 70.10,581.40 C71.12,581.78 71.58,581.82 73.10,581.70 C74.62,581.58 76.92,581.15 79.20,580.70 C81.48,580.25 84.27,579.53 86.80,579.00 C89.33,578.47 91.62,578.02 94.40,577.50 C97.18,576.98 101.22,575.90 103.50,575.90 C105.78,575.90 106.45,576.97 108.10,577.50 C109.75,578.03 111.88,579.15 113.40,579.10 C114.92,579.05 115.82,577.73 117.20,577.20 C118.58,576.67 120.23,576.22 121.70,575.90 C123.17,575.58 123.25,575.28 126.00,575.30 C128.75,575.32 133.12,575.97 138.20,576.00 C143.28,576.03 150.42,575.37 156.50,575.50 C162.58,575.63 168.62,576.80 174.70,576.80 C180.78,576.80 187.53,575.80 193.00,575.50 C198.47,575.20 203.87,574.78 207.50,575.00 C211.13,575.22 212.67,576.27 214.80,576.80 C216.93,577.33 218.62,577.20 220.30,578.20 C221.98,579.20 223.53,581.63 224.90,582.80 C226.27,583.97 227.28,585.50 228.50,585.20 C229.72,584.90 231.00,582.47 232.20,581.00 C233.40,579.53 234.55,576.87 235.70,576.40 C236.85,575.93 237.97,576.75 239.10,578.20 C240.23,579.65 241.35,581.68 242.50,585.10 C243.65,588.52 244.85,593.00 246.00,598.70 C247.15,604.40 248.27,611.70 249.40,619.30 C250.53,626.90 251.78,635.95 252.80,644.30 C253.82,652.65 254.67,660.67 255.50,669.40 C256.33,678.13 257.18,688.73 257.80,696.70 C258.42,704.67 258.75,711.98 259.20,717.20 C259.65,722.42 260.05,728.00 260.50,728.00 C260.95,728.00 261.28,723.93 261.90,717.20 C262.52,710.47 263.37,697.85 264.20,687.60 C265.03,677.35 265.95,664.82 266.90,655.70 C267.85,646.58 268.83,641.25 269.90,632.90 C270.97,624.55 272.43,611.28 273.30,605.60 C274.17,599.92 274.43,603.22 275.10,598.80 C275.77,594.38 276.68,583.23 277.30,579.10 C277.92,574.97 278.32,575.15 278.80,574.00 C279.28,572.85 279.73,572.37 280.20,572.20 C280.67,572.03 281.12,572.47 281.60,573.00 C282.08,573.53 282.60,574.75 283.10,575.40 C283.60,576.05 283.98,576.17 284.60,576.90 C285.22,577.63 286.20,578.83 286.80,579.80 C287.40,580.77 287.72,581.37 288.20,582.70 C288.68,584.03 289.20,585.97 289.70,587.80 C290.20,589.63 290.83,591.87 291.20,593.70 C291.57,595.53 291.38,593.02 291.90,598.80 C292.42,604.58 293.53,619.30 294.30,628.40 C295.07,637.50 295.90,647.47 296.50,653.40 C297.10,659.33 297.40,664.37 297.90,664.00 C298.40,663.63 298.85,657.90 299.50,651.20 C300.15,644.50 301.00,632.53 301.80,623.80 C302.60,615.07 303.52,606.25 304.30,598.80 C305.08,591.35 305.88,583.48 306.50,579.10 C307.12,574.72 307.52,573.97 308.00,572.50 C308.48,571.03 308.92,570.30 309.40,570.30 C309.88,570.30 310.47,571.52 310.90,572.50 C311.33,573.48 311.72,575.22 312.00,576.20 C312.28,577.18 312.50,578.03 312.60,578.40" fill="none" stroke="#8e2a96" stroke-width="1.5" stroke-linejoin="round"/>
<text x="36.90" y="604.20" font-size="9.5" font-weight="normal" letter-spacing="0.8" fill="#222" text-anchor="start"  stroke="#222" stroke-width="0.25">OH</text>
<text x="53.05" y="599.70" font-size="4" font-weight="normal" letter-spacing="0" fill="#222" text-anchor="start"  stroke="#222" stroke-width="0.25">-</text>
<text x="36.90" y="616.10" font-size="9.5" font-weight="normal" letter-spacing="0.8" fill="#222" text-anchor="start"  stroke="#222" stroke-width="0.25">stretched</text>
<line x1="55.60" y1="593.90" x2="67.77" y2="586.37" stroke="#555" stroke-width="0.6"/><polygon points="71.60,584.00 68.67,587.81 66.88,584.92" fill="#111"/>
<text x="97.80" y="608.20" font-size="9.5" font-weight="normal" letter-spacing="0.8" fill="#222" text-anchor="start"  stroke="#222" stroke-width="0.25">H</text>
<text x="105.66" y="610.80" font-size="7.5" font-weight="normal" letter-spacing="0" fill="#222" text-anchor="start"  stroke="#222" stroke-width="0.25">2</text>
<text x="110.03" y="608.20" font-size="9.5" font-weight="normal" letter-spacing="0.8" fill="#222" text-anchor="start"  stroke="#222" stroke-width="0.25">O</text>
<text x="97.80" y="622.80" font-size="9.5" font-weight="normal" letter-spacing="0.8" fill="#222" text-anchor="start"  stroke="#222" stroke-width="0.25">absorbed</text>
<line x1="111.10" y1="595.00" x2="112.97" y2="585.02" stroke="#555" stroke-width="0.6"/><polygon points="113.80,580.60 114.64,585.34 111.30,584.71" fill="#111"/>
<text x="183.40" y="598.60" font-size="9.5" font-weight="normal" letter-spacing="0.8" fill="#222" text-anchor="start"  stroke="#222" stroke-width="0.25">CO</text>
<text x="198.95" y="594.80" font-size="7.2" font-weight="normal" letter-spacing="0" fill="#222" text-anchor="start"  stroke="#222" stroke-width="0.25">2-</text>
<text x="198.95" y="601.60" font-size="9.2" font-weight="normal" letter-spacing="0" fill="#222" text-anchor="start"  stroke="#222" stroke-width="0.25">3</text>
<text x="183.40" y="614.20" font-size="9.5" font-weight="normal" letter-spacing="0.8" fill="#222" text-anchor="start"  stroke="#222" stroke-width="0.25">absorbed</text>
<line x1="212.60" y1="598.60" x2="223.66" y2="589.30" stroke="#555" stroke-width="0.6"/><polygon points="227.10,586.40 224.75,590.60 222.56,588.00" fill="#111"/>
<text x="220.80" y="728.60" font-size="9.5" font-weight="normal" letter-spacing="0.8" fill="#222" text-anchor="start"  stroke="#222" stroke-width="0.25">PO</text>
<text x="235.93" y="724.00" font-size="6.8" font-weight="normal" letter-spacing="0" fill="#222" text-anchor="start"  stroke="#222" stroke-width="0.25">3-</text>
<text x="235.93" y="730.90" font-size="8.8" font-weight="normal" letter-spacing="0" fill="#222" text-anchor="start"  stroke="#222" stroke-width="0.25">4</text>
<text x="154.90" y="743.50" font-size="9.5" font-weight="normal" letter-spacing="0.68" fill="#222" text-anchor="start"  stroke="#222" stroke-width="0.25">bending motion</text>
<text x="232.20" y="743.20" font-size="6.969999999999999" font-weight="normal" letter-spacing="0" fill="#222" text-anchor="start" >[</text>
<text x="234.44" y="743.50" font-size="8.2" font-weight="normal" letter-spacing="0" fill="#222" text-anchor="start" >υ</text>
<text x="238.72" y="745.30" font-size="9.2" font-weight="normal" letter-spacing="0" fill="#222" text-anchor="start" >3</text>
<text x="244.04" y="743.20" font-size="6.969999999999999" font-weight="normal" letter-spacing="0" fill="#222" text-anchor="start" >]</text>
<line x1="244.40" y1="732.50" x2="254.70" y2="730.11" stroke="#555" stroke-width="0.6"/><polygon points="258.60,729.20 255.04,731.57 254.36,728.64" fill="#111"/>
<text x="271.30" y="688.20" font-size="9.5" font-weight="normal" letter-spacing="0.8" fill="#222" text-anchor="start"  stroke="#222" stroke-width="0.25">PO</text>
<text x="286.43" y="683.60" font-size="6.8" font-weight="normal" letter-spacing="0" fill="#222" text-anchor="start"  stroke="#222" stroke-width="0.25">3-</text>
<text x="286.43" y="690.50" font-size="8.8" font-weight="normal" letter-spacing="0" fill="#222" text-anchor="start"  stroke="#222" stroke-width="0.25">4</text>
<text x="292.47" y="688.20" font-size="9.5" font-weight="normal" letter-spacing="0.8" fill="#222" text-anchor="start"  stroke="#222" stroke-width="0.25"> -</text>
<text x="271.30" y="702.60" font-size="9.5" font-weight="normal" letter-spacing="0.8" fill="#222" text-anchor="start"  stroke="#222" stroke-width="0.25">asym-</text>
<text x="271.30" y="714.90" font-size="9.5" font-weight="normal" letter-spacing="0.8" fill="#222" text-anchor="start"  stroke="#222" stroke-width="0.25">metric</text>
<text x="271.30" y="727.20" font-size="9.5" font-weight="normal" letter-spacing="0.8" fill="#222" text-anchor="start"  stroke="#222" stroke-width="0.25">stretch</text>
<text x="271.30" y="740.20" font-size="6.969999999999999" font-weight="normal" letter-spacing="0" fill="#222" text-anchor="start" >[</text>
<text x="273.54" y="740.50" font-size="8.2" font-weight="normal" letter-spacing="0" fill="#222" text-anchor="start" >υ</text>
<text x="277.82" y="742.30" font-size="9.2" font-weight="normal" letter-spacing="0" fill="#222" text-anchor="start" >2</text>
<text x="283.14" y="740.20" font-size="6.969999999999999" font-weight="normal" letter-spacing="0" fill="#222" text-anchor="start" >]</text>
<line x1="298.00" y1="679.00" x2="298.00" y2="668.60" stroke="#bbb" stroke-width="0.9"/><polygon points="298.00,664.60 299.40,668.60 296.60,668.60" fill="#111"/>
<rect x="231.6" y="555.5" width="75.4" height="13.7" fill="#fff" stroke="#e8e8e8" stroke-width="0.8"/>
<text x="233.90" y="565.80" font-size="11.6" font-weight="bold" letter-spacing="0.1" fill="#222" text-anchor="start" >nHAP_Chem</text><path d="M370.80,576.40 C371.85,576.32 374.78,576.03 377.10,575.90 C379.42,575.77 382.42,575.43 384.70,575.60 C386.98,575.77 389.02,576.68 390.80,576.90 C392.58,577.12 394.00,576.48 395.40,576.90 C396.80,577.32 397.93,578.60 399.20,579.40 C400.47,580.20 401.62,581.12 403.00,581.70 C404.38,582.28 405.87,582.43 407.50,582.90 C409.13,583.37 410.77,584.57 412.80,584.50 C414.83,584.43 417.03,583.22 419.70,582.50 C422.37,581.78 426.02,580.78 428.80,580.20 C431.58,579.62 433.62,579.38 436.40,579.00 C439.18,578.62 442.85,577.83 445.50,577.90 C448.15,577.97 450.27,579.40 452.30,579.40 C454.33,579.40 455.80,578.32 457.70,577.90 C459.60,577.48 461.80,577.15 463.70,576.90 C465.60,576.65 465.92,576.50 469.10,576.40 C472.28,576.30 477.22,576.30 482.80,576.30 C488.38,576.30 497.78,576.08 502.60,576.40 C507.42,576.72 508.42,577.90 511.70,578.20 C514.98,578.50 519.52,578.45 522.30,578.20 C525.08,577.95 526.37,576.90 528.40,576.70 C530.43,576.50 532.73,576.75 534.50,577.00 C536.27,577.25 537.23,577.95 539.00,578.20 C540.77,578.45 543.07,578.03 545.10,578.50 C547.13,578.97 549.53,580.48 551.20,581.00 C552.87,581.52 553.60,580.45 555.10,581.60 C556.60,582.75 558.72,586.00 560.20,587.90 C561.68,589.80 562.73,593.00 564.00,593.00 C565.27,593.00 566.53,589.68 567.80,587.90 C569.07,586.12 570.33,583.35 571.60,582.30 C572.87,581.25 574.13,580.88 575.40,581.60 C576.67,582.32 577.93,584.28 579.20,586.60 C580.47,588.92 581.95,591.90 583.00,595.50 C584.05,599.10 584.65,601.85 585.50,608.20 C586.35,614.55 587.25,622.60 588.10,633.60 C588.95,644.60 589.85,661.52 590.60,674.20 C591.35,686.88 591.97,699.55 592.60,709.70 C593.23,719.85 593.80,734.67 594.40,735.10 C595.00,735.53 595.57,722.87 596.20,712.30 C596.83,701.73 597.43,686.50 598.20,671.70 C598.97,656.90 599.95,636.20 600.80,623.50 C601.65,610.80 602.25,602.07 603.30,595.50 C604.35,588.93 605.62,586.85 607.10,584.10 C608.58,581.35 610.50,579.85 612.20,579.00 C613.90,578.15 615.82,578.57 617.30,579.00 C618.78,579.43 619.97,578.85 621.10,581.60 C622.23,584.35 623.18,588.95 624.10,595.50 C625.02,602.05 625.75,613.28 626.60,620.90 C627.45,628.52 628.55,637.35 629.20,641.20 C629.85,645.05 629.95,645.68 630.50,644.00 C631.05,642.32 631.75,637.48 632.50,631.10 C633.25,624.72 634.15,613.32 635.00,605.70 C635.85,598.08 636.75,589.85 637.60,585.40 C638.45,580.95 639.27,579.63 640.10,579.00 C640.93,578.37 641.88,580.97 642.60,581.60 C643.32,582.23 644.10,582.60 644.40,582.80" fill="none" stroke="#1e1e9e" stroke-width="2" stroke-linejoin="round"/>
<text x="379.60" y="604.60" font-size="9.3" font-weight="normal" letter-spacing="0.75" fill="#222" text-anchor="start"  stroke="#222" stroke-width="0.25">OH</text>
<text x="395.35" y="600.10" font-size="4" font-weight="normal" letter-spacing="0" fill="#222" text-anchor="start"  stroke="#222" stroke-width="0.25">-</text>
<text x="379.60" y="616.50" font-size="9.3" font-weight="normal" letter-spacing="0.75" fill="#222" text-anchor="start"  stroke="#222" stroke-width="0.25">stretched</text>
<line x1="397.60" y1="594.60" x2="408.29" y2="587.89" stroke="#555" stroke-width="0.6"/><polygon points="412.10,585.50 409.19,589.33 407.38,586.45" fill="#111"/>
<text x="447.00" y="606.30" font-size="9.3" font-weight="normal" letter-spacing="0.75" fill="#222" text-anchor="start"  stroke="#222" stroke-width="0.25">H</text>
<text x="455.07" y="609.30" font-size="4.5" font-weight="normal" letter-spacing="0" fill="#222" text-anchor="start"  stroke="#222" stroke-width="0.25">2</text>
<text x="458.37" y="606.30" font-size="9.3" font-weight="normal" letter-spacing="0.75" fill="#222" text-anchor="start"  stroke="#222" stroke-width="0.25">O</text>
<text x="447.00" y="621.60" font-size="9.3" font-weight="normal" letter-spacing="0.75" fill="#222" text-anchor="start"  stroke="#222" stroke-width="0.25">absorbed</text>
<line x1="449.30" y1="594.60" x2="451.08" y2="585.02" stroke="#555" stroke-width="0.6"/><polygon points="451.90,580.60 452.75,585.33 449.41,584.71" fill="#111"/>
<text x="527.10" y="620.10" font-size="9.3" font-weight="normal" letter-spacing="0.75" fill="#222" text-anchor="start"  stroke="#222" stroke-width="0.25">CO</text>
<text x="542.25" y="616.30" font-size="7.2" font-weight="normal" letter-spacing="0" fill="#222" text-anchor="start"  stroke="#222" stroke-width="0.25">2-</text>
<text x="542.25" y="623.10" font-size="9.2" font-weight="normal" letter-spacing="0" fill="#222" text-anchor="start"  stroke="#222" stroke-width="0.25">3</text>
<text x="527.10" y="635.10" font-size="9.3" font-weight="normal" letter-spacing="0.75" fill="#222" text-anchor="start"  stroke="#222" stroke-width="0.25">absorbed</text>
<line x1="550.30" y1="608.50" x2="560.65" y2="599.21" stroke="#555" stroke-width="0.6"/><polygon points="564.00,596.20 561.79,600.47 559.52,597.94" fill="#111"/>
<text x="560.70" y="729.40" font-size="9.3" font-weight="normal" letter-spacing="0.75" fill="#222" text-anchor="start"  stroke="#222" stroke-width="0.25">PO</text>
<text x="575.44" y="724.80" font-size="6.8" font-weight="normal" letter-spacing="0" fill="#222" text-anchor="start"  stroke="#222" stroke-width="0.25">3-</text>
<text x="575.44" y="731.70" font-size="8.8" font-weight="normal" letter-spacing="0" fill="#222" text-anchor="start"  stroke="#222" stroke-width="0.25">4</text>
<text x="500.60" y="744.50" font-size="9.3" font-weight="normal" letter-spacing="0.75" fill="#222" text-anchor="start"  stroke="#222" stroke-width="0.25">bending motion</text>
<text x="575.80" y="744.20" font-size="6.63" font-weight="normal" letter-spacing="0" fill="#222" text-anchor="start" >[</text>
<text x="577.94" y="744.50" font-size="7.8" font-weight="normal" letter-spacing="0" fill="#222" text-anchor="start" >υ</text>
<text x="582.01" y="746.30" font-size="9.0" font-weight="normal" letter-spacing="0" fill="#222" text-anchor="start" >3</text>
<text x="587.21" y="744.20" font-size="6.63" font-weight="normal" letter-spacing="0" fill="#222" text-anchor="start" >]</text>
<line x1="578.80" y1="738.10" x2="588.40" y2="735.90" stroke="#555" stroke-width="0.6"/><polygon points="592.30,735.00 588.74,737.36 588.07,734.43" fill="#111"/>
<text x="602.00" y="663.90" font-size="9.3" font-weight="normal" letter-spacing="0.75" fill="#222" text-anchor="start"  stroke="#222" stroke-width="0.25">PO</text>
<text x="616.74" y="659.30" font-size="6.8" font-weight="normal" letter-spacing="0" fill="#222" text-anchor="start"  stroke="#222" stroke-width="0.25">3-</text>
<text x="616.74" y="666.20" font-size="8.8" font-weight="normal" letter-spacing="0" fill="#222" text-anchor="start"  stroke="#222" stroke-width="0.25">4</text>
<text x="622.78" y="663.90" font-size="9.3" font-weight="normal" letter-spacing="0.75" fill="#222" text-anchor="start"  stroke="#222" stroke-width="0.25"> -</text>
<text x="602.00" y="679.30" font-size="9.3" font-weight="normal" letter-spacing="0.75" fill="#222" text-anchor="start"  stroke="#222" stroke-width="0.25">asym-</text>
<text x="602.00" y="691.70" font-size="9.3" font-weight="normal" letter-spacing="0.75" fill="#222" text-anchor="start"  stroke="#222" stroke-width="0.25">metric</text>
<text x="602.00" y="704.40" font-size="9.3" font-weight="normal" letter-spacing="0.75" fill="#222" text-anchor="start"  stroke="#222" stroke-width="0.25">stretch</text>
<text x="602.00" y="717.20" font-size="6.969999999999999" font-weight="normal" letter-spacing="0" fill="#222" text-anchor="start" >[</text>
<text x="604.24" y="717.50" font-size="8.2" font-weight="normal" letter-spacing="0" fill="#222" text-anchor="start" >υ</text>
<text x="608.52" y="719.30" font-size="9.2" font-weight="normal" letter-spacing="0" fill="#222" text-anchor="start" >2</text>
<text x="613.84" y="717.20" font-size="6.969999999999999" font-weight="normal" letter-spacing="0" fill="#222" text-anchor="start" >]</text>
<line x1="629.70" y1="660.50" x2="629.70" y2="649.00" stroke="#bbb" stroke-width="0.9"/><polygon points="629.70,645.00 631.10,649.00 628.30,649.00" fill="#111"/>
<rect x="565.5" y="555.5" width="75.5" height="13.7" fill="#fff" stroke="#e8e8e8" stroke-width="0.8"/>
<text x="567.50" y="565.50" font-size="11.4" font-weight="bold" letter-spacing="0.05" fill="#222" text-anchor="start" >nHAP_Sigma</text>
</svg></body></html>
